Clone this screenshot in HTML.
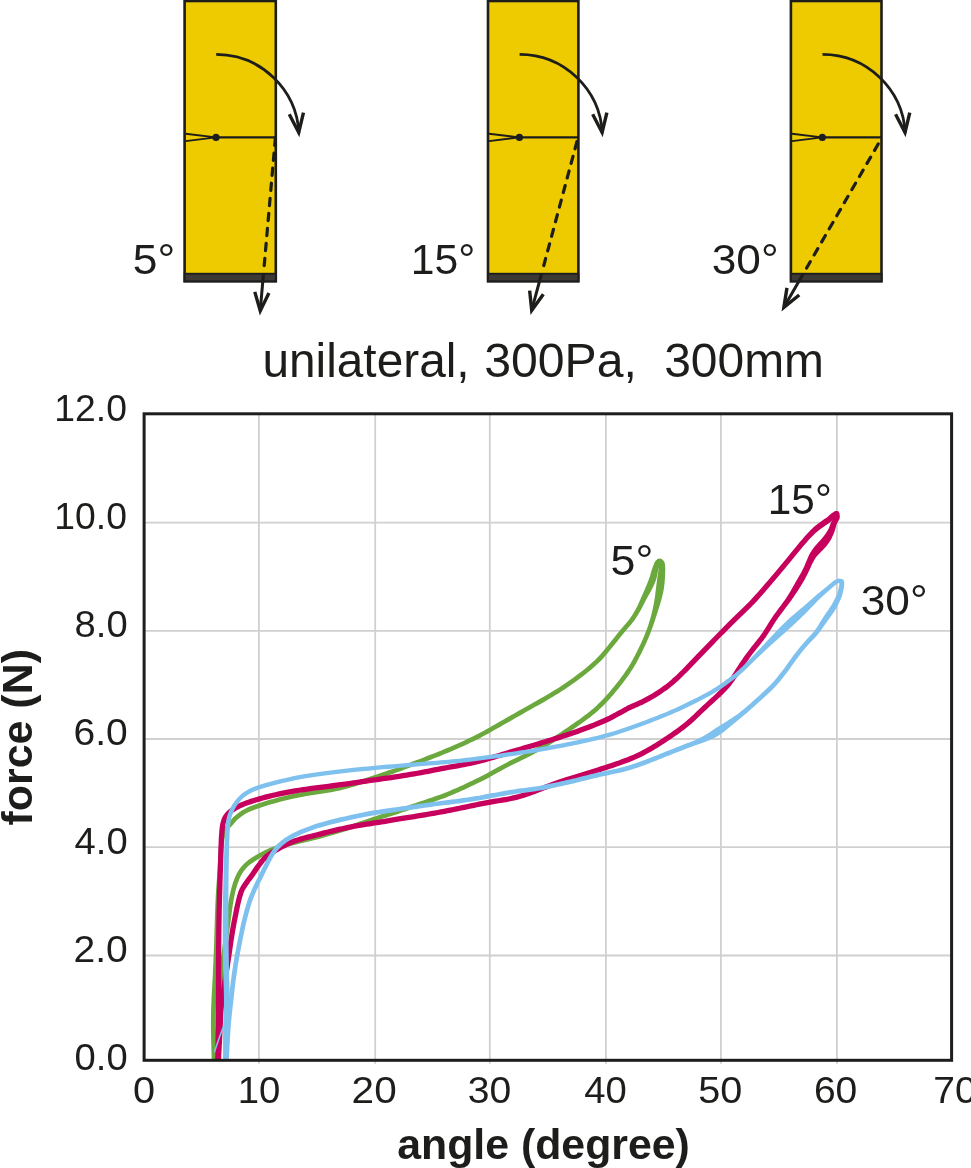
<!DOCTYPE html>
<html><head><meta charset="utf-8"><title>chart</title>
<style>
html,body{margin:0;padding:0;background:#fff;}
body{width:971px;height:1168px;overflow:hidden;}
svg{display:block;will-change:transform;}
text{font-family:"Liberation Sans",sans-serif;fill:#1d1d1b;}
.t42{font-size:42px;}
.title{font-size:47.5px;}
.tick{font-size:37px;}
.axt{font-size:42.5px;font-weight:bold;}
</style></head>
<body>
<svg width="971" height="1168" viewBox="0 0 971 1168">
<rect x="184.6" y="1" width="91.2" height="280.3" fill="#EECB00" stroke="#1d1d1b" stroke-width="2.6"/>
<rect x="184.6" y="273.7" width="91.2" height="7.6" fill="#3d3935" stroke="#1d1d1b" stroke-width="1.8"/>
<path d="M185.6 133.8 L216.0 137.4 L185.6 141.1" fill="none" stroke="#1d1d1b" stroke-width="1.9"/>
<line x1="216.0" y1="137.4" x2="275.8" y2="137.4" stroke="#1d1d1b" stroke-width="2.2"/>
<circle cx="216.0" cy="137.4" r="3.6" fill="#1d1d1b"/>
<path d="M216.2 54.4 A83.0 83.0 0 0 1 298.9 133.1" fill="none" stroke="#1d1d1b" stroke-width="2.8"/>
<path d="M305.14 112.99 L299.30 137.30 L287.76 115.12 L290.77 113.55 L298.12 127.66 L301.83 112.20 Z" fill="#1d1d1b"/>
<line x1="275.4" y1="137.6" x2="263.6" y2="272.5" stroke="#1d1d1b" stroke-width="3.2" stroke-dasharray="7.3 7.8" stroke-dashoffset="-0.5" stroke-linecap="round"/>
<line x1="263.5" y1="273.5" x2="260.3" y2="309.6" stroke="#1d1d1b" stroke-width="3.0"/>
<path d="M270.44 293.85 L259.83 315.60 L253.16 292.34 L256.42 291.40 L260.65 306.15 L267.38 292.36 Z" fill="#1d1d1b"/>
<rect x="488.0" y="1" width="90.4" height="280.3" fill="#EECB00" stroke="#1d1d1b" stroke-width="2.6"/>
<rect x="488.0" y="273.7" width="90.4" height="7.6" fill="#3d3935" stroke="#1d1d1b" stroke-width="1.8"/>
<path d="M489.0 133.8 L519.4 137.4 L489.0 141.1" fill="none" stroke="#1d1d1b" stroke-width="1.9"/>
<line x1="519.4" y1="137.4" x2="578.4" y2="137.4" stroke="#1d1d1b" stroke-width="2.2"/>
<circle cx="519.4" cy="137.4" r="3.6" fill="#1d1d1b"/>
<path d="M519.6 54.4 A83.0 83.0 0 0 1 602.3 133.1" fill="none" stroke="#1d1d1b" stroke-width="2.8"/>
<path d="M608.54 112.99 L602.70 137.30 L591.16 115.12 L594.17 113.55 L601.52 127.66 L605.23 112.20 Z" fill="#1d1d1b"/>
<line x1="578.0" y1="137.6" x2="541.9" y2="272.5" stroke="#1d1d1b" stroke-width="3.2" stroke-dasharray="7.3 7.8" stroke-dashoffset="-4.3" stroke-linecap="round"/>
<line x1="541.6" y1="273.5" x2="532.0" y2="309.1" stroke="#1d1d1b" stroke-width="3.0"/>
<path d="M544.72 295.32 L530.49 314.90 L527.96 290.83 L531.34 290.48 L532.95 305.74 L541.97 293.32 Z" fill="#1d1d1b"/>
<rect x="790.9" y="1" width="90.6" height="280.3" fill="#EECB00" stroke="#1d1d1b" stroke-width="2.6"/>
<rect x="790.9" y="273.7" width="90.6" height="7.6" fill="#3d3935" stroke="#1d1d1b" stroke-width="1.8"/>
<path d="M791.9 133.8 L822.3 137.4 L791.9 141.1" fill="none" stroke="#1d1d1b" stroke-width="1.9"/>
<line x1="822.3" y1="137.4" x2="881.5" y2="137.4" stroke="#1d1d1b" stroke-width="2.2"/>
<circle cx="822.3" cy="137.4" r="3.6" fill="#1d1d1b"/>
<path d="M822.5 54.4 A83.0 83.0 0 0 1 905.2 133.1" fill="none" stroke="#1d1d1b" stroke-width="2.8"/>
<path d="M911.44 112.99 L905.60 137.30 L894.06 115.12 L897.07 113.55 L904.42 127.66 L908.13 112.20 Z" fill="#1d1d1b"/>
<line x1="881.9" y1="137.6" x2="804.0" y2="272.5" stroke="#1d1d1b" stroke-width="3.2" stroke-dasharray="7.3 7.8" stroke-dashoffset="-7.4" stroke-linecap="round"/>
<line x1="803.4" y1="273.5" x2="784.5" y2="306.3" stroke="#1d1d1b" stroke-width="3.0"/>
<path d="M800.31 296.27 L781.50 311.50 L785.28 287.60 L788.64 288.13 L786.24 303.28 L798.17 293.63 Z" fill="#1d1d1b"/>
<line x1="258.9" y1="413.8" x2="258.9" y2="1063.8" stroke="#d0d0d0" stroke-width="1.8"/>
<line x1="375.2" y1="413.8" x2="375.2" y2="1063.8" stroke="#d0d0d0" stroke-width="1.8"/>
<line x1="489.8" y1="413.8" x2="489.8" y2="1063.8" stroke="#d0d0d0" stroke-width="1.8"/>
<line x1="605.9" y1="413.8" x2="605.9" y2="1063.8" stroke="#d0d0d0" stroke-width="1.8"/>
<line x1="720.9" y1="413.8" x2="720.9" y2="1063.8" stroke="#d0d0d0" stroke-width="1.8"/>
<line x1="836.9" y1="413.8" x2="836.9" y2="1063.8" stroke="#d0d0d0" stroke-width="1.8"/>
<line x1="144.1" y1="522.6" x2="951.6" y2="522.6" stroke="#d0d0d0" stroke-width="1.8"/>
<line x1="144.1" y1="630.9" x2="951.6" y2="630.9" stroke="#d0d0d0" stroke-width="1.8"/>
<line x1="144.1" y1="739.0" x2="951.6" y2="739.0" stroke="#d0d0d0" stroke-width="1.8"/>
<line x1="144.1" y1="847.2" x2="951.6" y2="847.2" stroke="#d0d0d0" stroke-width="1.8"/>
<line x1="144.1" y1="955.5" x2="951.6" y2="955.5" stroke="#d0d0d0" stroke-width="1.8"/>
<path d="M216.35 1057.93 L216.26 1054.85 L216.13 1050.56 L215.98 1045.50 L215.83 1040.09 L215.72 1034.77 L215.65 1029.98 L215.63 1025.71 L215.63 1021.64 L215.66 1017.65 L215.72 1013.64 L215.82 1009.48 L215.95 1005.08 L216.14 1000.40 L216.38 995.49 L216.66 990.44 L216.96 985.32 L217.24 980.18 L217.50 975.11 L217.73 970.09 L217.95 965.04 L218.17 959.99 L218.37 954.96 L218.57 949.99 L218.75 945.08 L218.91 940.20 L219.06 935.32 L219.19 930.49 L219.32 925.76 L219.46 921.19 L219.60 916.83 L219.75 912.67 L219.90 908.65 L220.05 904.80 L220.21 901.09 L220.37 897.54 L220.55 894.13 L220.74 890.91 L220.94 887.89 L221.15 885.00 L221.37 882.21 L221.58 879.44 L221.77 876.66 L221.95 873.88 L222.12 871.14 L222.28 868.45 L222.44 865.81 L222.59 863.20 L222.75 860.63 L222.89 858.07 L223.01 855.53 L223.12 853.04 L223.25 850.64 L223.40 848.36 L223.59 846.23 L223.81 844.21 L224.04 842.29 L224.29 840.49 L224.58 838.82 L224.90 837.29 L225.25 835.91 L225.65 834.72 L226.08 833.68 L226.55 832.75 L227.06 831.86 L227.63 830.96 L228.23 830.06 L228.82 829.24 L229.42 828.51 L230.08 827.78 L230.82 827.02 L231.63 826.17 L232.54 825.21 L233.48 824.14 L234.40 823.05 L235.34 821.96 L236.33 820.87 L237.40 819.81 L238.61 818.75 L239.97 817.65 L241.42 816.53 L242.96 815.42 L244.63 814.33 L246.45 813.26 L248.47 812.22 L250.73 811.20 L253.25 810.20 L255.95 809.21 L258.81 808.23 L261.76 807.26 L264.76 806.29 L267.84 805.32 L271.06 804.36 L274.36 803.40 L277.70 802.48 L281.02 801.59 L284.27 800.75 L287.45 799.98 L290.60 799.25 L293.73 798.56 L296.87 797.90 L300.03 797.27 L303.22 796.66 L306.47 796.09 L309.77 795.57 L313.10 795.07 L316.45 794.58 L319.77 794.07 L323.04 793.54 L326.23 793.00 L329.41 792.46 L332.55 791.91 L335.66 791.34 L338.73 790.72 L341.73 790.06 L344.63 789.36 L347.41 788.62 L350.13 787.85 L352.83 787.05 L355.56 786.21 L358.37 785.34 L361.28 784.43 L364.22 783.47 L367.20 782.48 L370.21 781.47 L373.26 780.44 L376.35 779.40 L379.52 778.34 L382.79 777.25 L386.11 776.14 L389.42 775.02 L392.67 773.91 L395.81 772.82 L398.82 771.74 L401.77 770.68 L404.64 769.62 L407.46 768.57 L410.23 767.53 L412.98 766.50 L415.66 765.49 L418.27 764.50 L420.83 763.51 L423.39 762.53 L425.98 761.52 L428.63 760.49 L431.34 759.43 L434.10 758.36 L436.90 757.27 L439.71 756.16 L442.54 755.03 L445.37 753.87 L448.19 752.70 L451.01 751.51 L453.84 750.30 L456.69 749.07 L459.56 747.80 L462.45 746.49 L465.37 745.14 L468.32 743.76 L471.29 742.35 L474.27 740.90 L477.25 739.42 L480.21 737.91 L483.16 736.36 L486.10 734.76 L489.03 733.13 L491.94 731.50 L494.82 729.87 L497.66 728.27 L500.46 726.68 L503.23 725.09 L505.97 723.52 L508.69 721.94 L511.41 720.38 L514.14 718.82 L516.88 717.26 L519.63 715.71 L522.39 714.16 L525.14 712.61 L527.87 711.08 L530.58 709.55 L533.22 708.06 L535.80 706.62 L538.38 705.17 L540.99 703.70 L543.68 702.15 L546.49 700.50 L549.43 698.76 L552.45 696.97 L555.56 695.11 L558.74 693.15 L561.99 691.10 L565.28 688.93 L568.72 686.58 L572.33 684.06 L575.99 681.44 L579.58 678.81 L582.99 676.25 L586.10 673.85 L588.91 671.59 L591.52 669.40 L593.93 667.30 L596.17 665.27 L598.26 663.31 L600.22 661.43 L602.00 659.63 L603.56 657.96 L604.97 656.36 L606.28 654.80 L607.57 653.24 L608.93 651.60 L610.37 649.86 L611.82 648.07 L613.25 646.26 L614.68 644.45 L616.11 642.65 L617.53 640.88 L618.96 639.11 L620.41 637.34 L621.86 635.57 L623.29 633.82 L624.71 632.10 L626.08 630.43 L627.42 628.83 L628.76 627.29 L630.08 625.76 L631.40 624.20 L632.70 622.60 L633.96 620.94 L635.15 619.23 L636.30 617.52 L637.40 615.79 L638.47 614.04 L639.53 612.25 L640.58 610.41 L641.64 608.49 L642.68 606.50 L643.70 604.49 L644.71 602.51 L645.70 600.59 L646.67 598.77 L647.64 597.02 L648.60 595.29 L649.56 593.60 L650.48 591.93 L651.36 590.30 L652.19 588.70 L652.94 587.18 L653.64 585.71 L654.30 584.28 L654.90 582.85 L655.47 581.41 L655.99 579.92 L656.45 578.39 L656.83 576.87 L657.15 575.42 L657.43 574.03 L657.70 572.73 L657.99 571.48 L658.31 570.17 L658.64 568.82 L658.97 567.52 L659.30 566.34 L659.60 565.37 L659.83 564.72 L659.96 564.46 L659.99 564.39 L660.03 564.35 L660.17 564.27 L660.42 564.15 L658.10 559.14 L657.70 559.32 L657.07 559.65 L656.27 560.21 L655.45 561.05 L654.77 562.08 L654.22 563.20 L653.72 564.40 L653.22 565.69 L652.74 567.04 L652.27 568.39 L651.81 569.72 L651.38 571.09 L650.98 572.48 L650.61 573.84 L650.25 575.18 L649.87 576.47 L649.46 577.73 L649.00 579.01 L648.51 580.30 L647.98 581.62 L647.43 582.99 L646.84 584.43 L646.21 585.95 L645.55 587.53 L644.84 589.17 L644.09 590.88 L643.31 592.64 L642.50 594.46 L641.68 596.33 L640.84 598.27 L639.97 600.27 L639.09 602.30 L638.19 604.30 L637.27 606.24 L636.32 608.09 L635.35 609.87 L634.36 611.61 L633.36 613.30 L632.32 614.95 L631.25 616.57 L630.14 618.16 L628.99 619.70 L627.78 621.20 L626.51 622.70 L625.20 624.22 L623.84 625.79 L622.47 627.42 L621.08 629.11 L619.66 630.84 L618.22 632.59 L616.77 634.36 L615.32 636.15 L613.87 637.92 L612.43 639.72 L611.00 641.53 L609.57 643.34 L608.15 645.13 L606.73 646.89 L605.32 648.60 L603.95 650.24 L602.67 651.79 L601.40 653.30 L600.08 654.80 L598.62 656.37 L596.93 658.07 L595.03 659.91 L592.99 661.81 L590.81 663.79 L588.46 665.83 L585.93 667.95 L583.20 670.15 L580.15 672.51 L576.79 675.03 L573.23 677.63 L569.61 680.22 L566.05 682.72 L562.67 685.02 L559.44 687.15 L556.25 689.16 L553.12 691.09 L550.04 692.94 L547.03 694.72 L544.11 696.45 L541.32 698.09 L538.66 699.62 L536.07 701.08 L533.51 702.51 L530.92 703.96 L528.27 705.45 L525.56 706.98 L522.83 708.52 L520.09 710.06 L517.33 711.61 L514.57 713.17 L511.81 714.73 L509.07 716.30 L506.34 717.87 L503.62 719.44 L500.89 721.02 L498.13 722.60 L495.34 724.18 L492.50 725.78 L489.63 727.41 L486.74 729.03 L483.84 730.64 L480.94 732.21 L478.04 733.74 L475.13 735.22 L472.20 736.68 L469.26 738.11 L466.32 739.51 L463.39 740.88 L460.50 742.21 L457.64 743.51 L454.81 744.76 L451.99 745.99 L449.18 747.19 L446.38 748.36 L443.58 749.53 L440.78 750.67 L437.98 751.79 L435.18 752.90 L432.40 753.98 L429.64 755.05 L426.92 756.11 L424.27 757.14 L421.69 758.14 L419.15 759.13 L416.59 760.10 L414.00 761.09 L411.32 762.10 L408.58 763.13 L405.82 764.17 L403.01 765.21 L400.15 766.26 L397.24 767.32 L394.24 768.38 L391.14 769.47 L387.91 770.57 L384.61 771.68 L381.30 772.79 L378.03 773.88 L374.85 774.95 L371.76 775.99 L368.71 777.02 L365.71 778.03 L362.75 779.01 L359.85 779.95 L356.98 780.86 L354.18 781.72 L351.47 782.55 L348.82 783.34 L346.17 784.09 L343.47 784.80 L340.67 785.49 L337.76 786.12 L334.78 786.72 L331.72 787.28 L328.61 787.83 L325.45 788.37 L322.26 788.91 L319.04 789.43 L315.75 789.93 L312.41 790.42 L309.05 790.92 L305.69 791.46 L302.38 792.04 L299.13 792.66 L295.93 793.29 L292.74 793.96 L289.56 794.66 L286.36 795.41 L283.13 796.20 L279.83 797.04 L276.46 797.94 L273.08 798.88 L269.73 799.85 L266.47 800.83 L263.34 801.81 L260.31 802.79 L257.31 803.77 L254.38 804.78 L251.57 805.81 L248.91 806.87 L246.43 807.98 L244.19 809.14 L242.15 810.33 L240.30 811.55 L238.61 812.77 L237.06 813.96 L235.59 815.15 L234.19 816.37 L232.94 817.62 L231.83 818.84 L230.83 820.00 L229.92 821.07 L229.06 822.04 L228.23 822.93 L227.43 823.76 L226.64 824.58 L225.86 825.44 L225.10 826.38 L224.37 827.39 L223.69 828.40 L223.04 829.42 L222.41 830.52 L221.80 831.74 L221.24 833.09 L220.75 834.59 L220.32 836.22 L219.96 837.95 L219.65 839.77 L219.38 841.68 L219.14 843.68 L218.91 845.77 L218.71 848.00 L218.56 850.36 L218.43 852.80 L218.31 855.31 L218.19 857.83 L218.05 860.37 L217.90 862.92 L217.75 865.53 L217.59 868.17 L217.43 870.86 L217.26 873.58 L217.08 876.34 L216.89 879.10 L216.68 881.85 L216.47 884.65 L216.25 887.56 L216.05 890.61 L215.85 893.87 L215.68 897.31 L215.51 900.89 L215.35 904.61 L215.20 908.47 L215.05 912.49 L214.90 916.67 L214.76 921.05 L214.63 925.63 L214.49 930.36 L214.36 935.18 L214.21 940.05 L214.05 944.92 L213.87 949.81 L213.68 954.78 L213.47 959.79 L213.26 964.83 L213.03 969.87 L212.80 974.89 L212.55 979.93 L212.26 985.05 L211.97 990.18 L211.69 995.25 L211.44 1000.18 L211.25 1004.92 L211.12 1009.36 L211.02 1013.55 L210.96 1017.60 L210.93 1021.62 L210.93 1025.72 L210.95 1030.02 L211.02 1034.86 L211.14 1040.21 L211.28 1045.63 L211.43 1050.70 L211.56 1054.99 L211.65 1058.07 Z" fill="#6BA93E"/><circle cx="214.00" cy="1058.00" r="2.35" fill="#6BA93E"/><circle cx="659.26" cy="561.65" r="2.76" fill="#6BA93E"/>
<path d="M658.31 564.14 L658.88 564.41 L659.09 564.51 L659.07 564.50 L658.90 564.33 L658.77 564.17 L658.77 564.32 L658.82 564.76 L658.85 565.36 L658.85 566.10 L658.81 566.97 L658.75 567.93 L658.64 569.01 L658.48 570.22 L658.28 571.56 L658.05 572.99 L657.82 574.48 L657.59 575.98 L657.37 577.51 L657.16 579.07 L656.95 580.65 L656.75 582.26 L656.54 583.87 L656.34 585.48 L656.13 587.11 L655.93 588.77 L655.72 590.44 L655.52 592.12 L655.31 593.79 L655.09 595.46 L654.86 597.13 L654.60 598.80 L654.33 600.47 L654.04 602.16 L653.73 603.88 L653.40 605.62 L653.05 607.38 L652.67 609.14 L652.27 610.93 L651.84 612.73 L651.38 614.55 L650.89 616.39 L650.36 618.27 L649.82 620.17 L649.24 622.08 L648.64 624.00 L648.00 625.94 L647.31 627.88 L646.59 629.85 L645.82 631.85 L645.02 633.87 L644.18 635.90 L643.33 637.93 L642.45 639.95 L641.55 641.97 L640.61 643.99 L639.66 646.01 L638.68 648.03 L637.70 650.04 L636.70 652.02 L635.71 653.97 L634.72 655.90 L633.73 657.80 L632.72 659.68 L631.67 661.55 L630.58 663.42 L629.45 665.29 L628.28 667.15 L627.07 669.01 L625.83 670.87 L624.55 672.74 L623.21 674.63 L621.83 676.54 L620.39 678.48 L618.90 680.42 L617.38 682.37 L615.85 684.30 L614.30 686.22 L612.74 688.12 L611.16 690.02 L609.57 691.91 L607.96 693.76 L606.36 695.57 L604.75 697.33 L603.15 699.03 L601.55 700.68 L599.94 702.30 L598.33 703.87 L596.70 705.42 L595.05 706.93 L593.40 708.40 L591.75 709.81 L590.08 711.19 L588.38 712.56 L586.62 713.94 L584.78 715.35 L582.88 716.77 L580.91 718.20 L578.89 719.63 L576.81 721.09 L574.68 722.56 L572.51 724.07 L570.30 725.60 L568.04 727.16 L565.73 728.73 L563.40 730.32 L561.04 731.91 L558.67 733.50 L556.28 735.09 L553.88 736.70 L551.47 738.30 L549.04 739.89 L546.58 741.45 L544.08 742.99 L541.54 744.50 L538.95 746.00 L536.33 747.48 L533.68 748.94 L531.01 750.38 L528.34 751.79 L525.64 753.17 L522.88 754.53 L520.08 755.87 L517.30 757.20 L514.57 758.52 L511.92 759.82 L509.36 761.12 L506.86 762.41 L504.41 763.68 L502.04 764.93 L499.76 766.14 L497.58 767.31 L495.54 768.43 L493.65 769.50 L491.87 770.52 L490.14 771.52 L488.39 772.51 L486.55 773.50 L484.64 774.49 L482.71 775.48 L480.75 776.45 L478.72 777.45 L476.62 778.47 L474.43 779.54 L472.11 780.66 L469.69 781.82 L467.21 783.01 L464.68 784.21 L462.15 785.39 L459.63 786.53 L457.13 787.66 L454.61 788.77 L452.09 789.87 L449.55 790.95 L447.01 791.99 L444.45 793.01 L441.88 793.98 L439.29 794.91 L436.67 795.83 L434.02 796.73 L431.35 797.63 L428.67 798.55 L425.96 799.48 L423.23 800.40 L420.49 801.32 L417.73 802.24 L414.98 803.17 L412.22 804.10 L409.44 805.04 L406.63 806.01 L403.81 806.97 L401.04 807.92 L398.35 808.83 L395.76 809.69 L393.28 810.51 L390.87 811.28 L388.53 812.02 L386.26 812.74 L384.06 813.43 L381.94 814.11 L379.95 814.74 L378.12 815.32 L376.35 815.88 L374.58 816.44 L372.73 817.04 L370.73 817.70 L368.62 818.41 L366.47 819.15 L364.26 819.92 L361.95 820.72 L359.52 821.57 L356.92 822.45 L354.13 823.40 L351.17 824.41 L348.09 825.46 L344.92 826.52 L341.70 827.56 L338.46 828.58 L335.14 829.58 L331.68 830.59 L328.16 831.59 L324.65 832.57 L321.22 833.50 L317.95 834.38 L314.81 835.19 L311.73 835.95 L308.72 836.68 L305.80 837.37 L302.99 838.04 L300.32 838.69 L297.81 839.31 L295.46 839.88 L293.23 840.43 L291.06 840.98 L288.94 841.53 L286.82 842.11 L284.74 842.70 L282.72 843.28 L280.74 843.88 L278.78 844.50 L276.82 845.16 L274.85 845.88 L272.87 846.64 L270.90 847.46 L268.94 848.30 L267.01 849.18 L265.11 850.08 L263.24 851.00 L261.41 851.94 L259.58 852.92 L257.78 853.92 L256.03 854.94 L254.33 855.97 L252.72 857.01 L251.18 858.03 L249.69 859.06 L248.26 860.11 L246.87 861.19 L245.54 862.31 L244.27 863.48 L243.07 864.70 L241.94 865.94 L240.89 867.21 L239.89 868.51 L238.96 869.85 L238.07 871.22 L237.24 872.64 L236.49 874.09 L235.80 875.56 L235.16 877.04 L234.56 878.52 L233.98 880.02 L233.42 881.52 L232.90 883.02 L232.42 884.55 L231.95 886.13 L231.50 887.79 L231.04 889.56 L230.60 891.41 L230.16 893.32 L229.73 895.32 L229.31 897.44 L228.89 899.70 L228.48 902.12 L228.07 904.75 L227.68 907.54 L227.29 910.47 L226.90 913.49 L226.51 916.58 L226.10 919.69 L225.67 922.88 L225.23 926.17 L224.78 929.53 L224.33 932.93 L223.87 936.33 L223.42 939.68 L222.96 943.01 L222.49 946.33 L222.01 949.67 L221.55 953.02 L221.11 956.38 L220.71 959.74 L220.36 963.10 L220.04 966.45 L219.74 969.80 L219.47 973.15 L219.23 976.50 L219.00 979.86 L218.83 983.11 L218.72 986.22 L218.63 989.30 L218.53 992.51 L218.38 995.97 L218.15 999.85 L217.85 1004.28 L217.48 1009.15 L217.07 1014.31 L216.63 1019.57 L216.15 1024.78 L215.66 1029.75 L215.10 1034.84 L214.45 1040.23 L213.76 1045.57 L213.11 1050.51 L212.56 1054.67 L212.17 1057.70 L216.83 1058.30 L217.22 1055.28 L217.77 1051.12 L218.42 1046.18 L219.11 1040.81 L219.77 1035.38 L220.34 1030.25 L220.83 1025.22 L221.31 1019.98 L221.76 1014.69 L222.17 1009.51 L222.53 1004.61 L222.85 1000.15 L223.07 996.21 L223.22 992.68 L223.32 989.45 L223.41 986.37 L223.53 983.32 L223.70 980.14 L223.92 976.83 L224.16 973.51 L224.43 970.20 L224.72 966.88 L225.04 963.57 L225.39 960.26 L225.77 956.96 L226.21 953.65 L226.67 950.33 L227.14 947.00 L227.62 943.66 L228.08 940.32 L228.53 936.95 L228.98 933.55 L229.44 930.15 L229.89 926.79 L230.33 923.50 L230.75 920.31 L231.17 917.18 L231.56 914.09 L231.95 911.08 L232.34 908.18 L232.72 905.43 L233.12 902.88 L233.52 900.52 L233.93 898.32 L234.33 896.27 L234.75 894.34 L235.17 892.49 L235.61 890.69 L236.04 888.99 L236.47 887.41 L236.91 885.93 L237.37 884.50 L237.85 883.10 L238.37 881.68 L238.93 880.25 L239.49 878.85 L240.08 877.49 L240.70 876.18 L241.36 874.91 L242.08 873.68 L242.86 872.47 L243.69 871.29 L244.56 870.14 L245.49 869.02 L246.48 867.93 L247.53 866.87 L248.65 865.84 L249.83 864.84 L251.09 863.86 L252.42 862.89 L253.82 861.92 L255.28 860.94 L256.82 859.96 L258.43 858.98 L260.11 858.01 L261.83 857.05 L263.59 856.11 L265.36 855.20 L267.15 854.31 L268.99 853.44 L270.85 852.60 L272.73 851.79 L274.62 851.01 L276.50 850.27 L278.37 849.60 L280.24 848.97 L282.13 848.37 L284.05 847.79 L286.03 847.22 L288.08 846.64 L290.15 846.07 L292.23 845.53 L294.36 844.99 L296.58 844.45 L298.93 843.87 L301.43 843.26 L304.09 842.61 L306.89 841.94 L309.81 841.25 L312.84 840.52 L315.96 839.75 L319.15 838.92 L322.45 838.04 L325.90 837.10 L329.43 836.11 L332.98 835.10 L336.47 834.09 L339.84 833.07 L343.13 832.04 L346.39 830.98 L349.59 829.91 L352.68 828.86 L355.64 827.85 L358.43 826.90 L361.04 826.01 L363.49 825.16 L365.81 824.36 L368.01 823.59 L370.14 822.86 L372.22 822.15 L374.19 821.50 L376.01 820.92 L377.77 820.36 L379.53 819.80 L381.37 819.22 L383.36 818.59 L385.48 817.92 L387.68 817.22 L389.95 816.50 L392.31 815.76 L394.73 814.98 L397.24 814.16 L399.84 813.29 L402.55 812.37 L405.34 811.42 L408.15 810.45 L410.96 809.49 L413.73 808.55 L416.47 807.62 L419.23 806.70 L421.99 805.78 L424.74 804.85 L427.47 803.93 L430.18 803.00 L432.87 802.08 L435.54 801.18 L438.20 800.27 L440.86 799.34 L443.51 798.39 L446.15 797.39 L448.77 796.35 L451.37 795.28 L453.94 794.19 L456.50 793.07 L459.04 791.95 L461.57 790.82 L464.11 789.66 L466.68 788.46 L469.23 787.26 L471.73 786.06 L474.16 784.89 L476.47 783.76 L478.68 782.70 L480.79 781.67 L482.83 780.67 L484.82 779.67 L486.79 778.67 L488.75 777.65 L490.66 776.62 L492.46 775.61 L494.22 774.60 L495.99 773.58 L497.83 772.53 L499.82 771.44 L501.97 770.29 L504.24 769.08 L506.59 767.85 L509.02 766.59 L511.50 765.31 L514.03 764.03 L516.63 762.74 L519.33 761.44 L522.12 760.11 L524.93 758.76 L527.74 757.37 L530.51 755.96 L533.22 754.52 L535.93 753.07 L538.62 751.58 L541.28 750.08 L543.92 748.55 L546.52 747.01 L549.07 745.44 L551.58 743.84 L554.06 742.22 L556.49 740.61 L558.90 739.00 L561.28 737.40 L563.66 735.81 L566.03 734.21 L568.38 732.62 L570.70 731.03 L572.97 729.47 L575.19 727.93 L577.36 726.43 L579.49 724.95 L581.59 723.48 L583.65 722.02 L585.66 720.56 L587.62 719.10 L589.50 717.66 L591.30 716.24 L593.06 714.83 L594.78 713.40 L596.49 711.94 L598.20 710.42 L599.90 708.86 L601.59 707.26 L603.25 705.64 L604.91 703.97 L606.55 702.27 L608.20 700.52 L609.85 698.72 L611.50 696.86 L613.14 694.96 L614.76 693.04 L616.37 691.11 L617.95 689.18 L619.51 687.24 L621.08 685.28 L622.62 683.30 L624.14 681.31 L625.61 679.33 L627.04 677.37 L628.40 675.43 L629.72 673.51 L631.00 671.59 L632.24 669.68 L633.45 667.76 L634.62 665.83 L635.75 663.88 L636.84 661.94 L637.88 660.00 L638.90 658.06 L639.90 656.11 L640.90 654.13 L641.90 652.13 L642.91 650.09 L643.90 648.04 L644.87 645.98 L645.83 643.91 L646.75 641.85 L647.65 639.79 L648.53 637.72 L649.39 635.65 L650.22 633.59 L651.02 631.54 L651.79 629.52 L652.52 627.52 L653.21 625.53 L653.88 623.57 L654.52 621.64 L655.15 619.73 L655.76 617.86 L656.37 616.01 L656.96 614.18 L657.54 612.38 L658.10 610.59 L658.65 608.83 L659.20 607.08 L659.73 605.36 L660.25 603.65 L660.76 601.95 L661.25 600.25 L661.72 598.55 L662.16 596.84 L662.58 595.11 L662.96 593.37 L663.31 591.64 L663.63 589.92 L663.91 588.21 L664.16 586.52 L664.38 584.83 L664.56 583.14 L664.71 581.47 L664.83 579.84 L664.93 578.25 L665.01 576.72 L665.08 575.21 L665.16 573.70 L665.22 572.21 L665.26 570.75 L665.28 569.36 L665.25 568.07 L665.19 566.90 L665.11 565.81 L664.99 564.79 L664.82 563.81 L664.59 562.86 L664.23 561.83 L663.56 560.73 L662.67 559.87 L661.84 559.37 L661.27 559.11 L660.69 558.86 Z" fill="#6BA93E"/><circle cx="659.50" cy="561.50" r="2.89" fill="#6BA93E"/><circle cx="214.50" cy="1058.00" r="2.35" fill="#6BA93E"/>
<path d="M220.65 1058.02 L220.67 1054.99 L220.70 1050.83 L220.73 1045.89 L220.77 1040.54 L220.81 1035.13 L220.85 1030.02 L220.90 1025.14 L220.95 1020.18 L221.01 1015.15 L221.06 1010.10 L221.11 1005.05 L221.15 1000.02 L221.17 995.01 L221.18 990.00 L221.18 985.00 L221.18 980.00 L221.19 975.00 L221.20 970.01 L221.22 965.01 L221.24 960.01 L221.26 955.01 L221.29 950.02 L221.33 945.02 L221.37 940.03 L221.43 935.00 L221.49 929.94 L221.56 924.88 L221.64 919.86 L221.73 914.90 L221.82 910.06 L221.93 905.25 L222.05 900.46 L222.18 895.73 L222.32 891.13 L222.45 886.73 L222.57 882.58 L222.69 878.69 L222.81 875.00 L222.93 871.51 L223.04 868.20 L223.15 865.06 L223.25 862.09 L223.34 859.32 L223.41 856.79 L223.48 854.44 L223.55 852.20 L223.62 850.03 L223.70 847.85 L223.78 845.67 L223.86 843.56 L223.94 841.51 L224.03 839.52 L224.14 837.59 L224.27 835.68 L224.40 833.80 L224.54 831.95 L224.69 830.17 L224.86 828.48 L225.08 826.89 L225.35 825.40 L225.66 823.98 L225.99 822.65 L226.35 821.44 L226.76 820.33 L227.23 819.29 L227.81 818.27 L228.48 817.26 L229.23 816.30 L230.07 815.37 L231.02 814.46 L232.08 813.54 L233.29 812.61 L234.62 811.69 L236.08 810.77 L237.66 809.86 L239.36 808.97 L241.18 808.08 L243.13 807.21 L245.18 806.35 L247.35 805.52 L249.65 804.70 L252.07 803.88 L254.63 803.06 L257.33 802.24 L260.17 801.41 L263.14 800.57 L266.24 799.74 L269.46 798.91 L272.79 798.10 L276.25 797.31 L279.86 796.53 L283.63 795.75 L287.52 794.99 L291.50 794.25 L295.53 793.54 L299.57 792.87 L303.65 792.24 L307.81 791.66 L312.03 791.11 L316.29 790.57 L320.55 790.03 L324.77 789.48 L328.95 788.92 L333.11 788.38 L337.27 787.83 L341.42 787.28 L345.59 786.72 L349.77 786.15 L353.96 785.56 L358.17 784.95 L362.38 784.34 L366.59 783.72 L370.77 783.10 L374.93 782.50 L379.08 781.90 L383.25 781.31 L387.40 780.73 L391.52 780.14 L395.57 779.55 L399.53 778.94 L403.39 778.33 L407.18 777.72 L410.89 777.10 L414.54 776.47 L418.13 775.84 L421.68 775.21 L425.16 774.55 L428.56 773.89 L431.90 773.22 L435.19 772.56 L438.44 771.91 L441.69 771.28 L444.93 770.68 L448.15 770.11 L451.37 769.55 L454.57 768.98 L457.77 768.41 L460.95 767.80 L464.12 767.19 L467.28 766.56 L470.44 765.93 L473.58 765.27 L476.69 764.58 L479.77 763.85 L482.80 763.06 L485.78 762.22 L488.71 761.36 L491.59 760.49 L494.43 759.63 L497.25 758.79 L500.05 757.97 L502.82 757.14 L505.55 756.33 L508.28 755.51 L511.00 754.70 L513.73 753.89 L516.47 753.08 L519.22 752.28 L521.98 751.48 L524.73 750.67 L527.47 749.87 L530.18 749.06 L532.84 748.27 L535.45 747.48 L538.04 746.70 L540.65 745.90 L543.31 745.08 L546.08 744.23 L548.91 743.37 L551.78 742.50 L554.73 741.60 L557.76 740.67 L560.90 739.68 L564.16 738.62 L567.59 737.47 L571.21 736.25 L574.92 734.97 L578.66 733.66 L582.34 732.34 L585.88 731.03 L589.32 729.73 L592.75 728.40 L596.12 727.06 L599.38 725.73 L602.50 724.42 L605.43 723.14 L608.17 721.89 L610.73 720.64 L613.13 719.42 L615.39 718.24 L617.51 717.11 L619.54 716.04 L621.48 715.00 L623.27 714.00 L624.93 713.06 L626.49 712.17 L627.97 711.35 L629.42 710.59 L630.82 709.90 L632.15 709.29 L633.45 708.72 L634.77 708.16 L636.14 707.56 L637.57 706.91 L639.03 706.25 L640.50 705.59 L642.01 704.90 L643.59 704.17 L645.24 703.36 L646.96 702.47 L648.76 701.50 L650.63 700.46 L652.56 699.36 L654.53 698.20 L656.52 696.99 L658.51 695.73 L660.51 694.42 L662.55 693.04 L664.62 691.62 L666.68 690.15 L668.71 688.64 L670.70 687.10 L672.63 685.53 L674.51 683.93 L676.36 682.30 L678.17 680.65 L679.96 678.99 L681.73 677.31 L683.49 675.61 L685.21 673.87 L686.91 672.13 L688.58 670.38 L690.24 668.65 L691.91 666.92 L693.58 665.18 L695.26 663.44 L696.94 661.70 L698.62 659.96 L700.30 658.21 L701.98 656.46 L703.68 654.71 L705.38 652.95 L707.08 651.19 L708.79 649.42 L710.49 647.66 L712.20 645.90 L713.91 644.13 L715.63 642.37 L717.34 640.61 L719.06 638.85 L720.77 637.10 L722.49 635.36 L724.19 633.64 L725.89 631.93 L727.59 630.23 L729.30 628.52 L731.02 626.81 L732.76 625.09 L734.53 623.35 L736.32 621.60 L738.12 619.84 L739.94 618.07 L741.76 616.30 L743.58 614.52 L745.38 612.76 L747.18 611.02 L748.99 609.26 L750.81 607.46 L752.66 605.61 L754.52 603.68 L756.38 601.69 L758.23 599.67 L760.09 597.60 L761.97 595.48 L763.90 593.28 L765.90 590.99 L768.00 588.56 L770.20 585.99 L772.45 583.35 L774.69 580.70 L776.90 578.08 L779.03 575.56 L781.10 573.09 L783.17 570.62 L785.20 568.20 L787.15 565.84 L789.01 563.60 L790.75 561.51 L792.33 559.58 L793.78 557.79 L795.13 556.12 L796.41 554.54 L797.64 553.01 L798.87 551.51 L800.08 550.05 L801.24 548.66 L802.36 547.32 L803.46 546.02 L804.57 544.74 L805.69 543.45 L806.83 542.14 L807.97 540.85 L809.11 539.58 L810.24 538.34 L811.36 537.15 L812.48 536.02 L813.60 534.93 L814.74 533.86 L815.88 532.83 L817.01 531.84 L818.12 530.90 L819.21 530.01 L820.26 529.18 L821.31 528.39 L822.35 527.64 L823.39 526.91 L824.41 526.20 L825.39 525.51 L826.31 524.88 L827.20 524.29 L828.10 523.71 L829.01 523.11 L829.91 522.48 L830.82 521.79 L831.69 521.05 L832.47 520.30 L833.16 519.60 L833.76 518.98 L834.29 518.46 L834.74 518.07 L835.21 517.73 L835.75 517.39 L836.32 517.06 L836.88 516.77 L837.40 516.50 L837.81 516.28 L835.19 511.32 L834.85 511.50 L834.34 511.75 L833.68 512.07 L832.92 512.48 L832.10 512.96 L831.26 513.53 L830.47 514.17 L829.74 514.84 L829.07 515.50 L828.43 516.12 L827.81 516.69 L827.18 517.21 L826.50 517.70 L825.73 518.22 L824.89 518.77 L823.98 519.35 L823.01 519.99 L822.01 520.69 L821.01 521.40 L819.99 522.14 L818.92 522.92 L817.81 523.75 L816.68 524.65 L815.54 525.59 L814.41 526.59 L813.26 527.62 L812.09 528.70 L810.92 529.83 L809.74 530.99 L808.57 532.18 L807.41 533.42 L806.24 534.69 L805.09 536.00 L803.94 537.31 L802.80 538.63 L801.66 539.95 L800.53 541.27 L799.41 542.58 L798.30 543.90 L797.17 545.26 L796.00 546.66 L794.78 548.14 L793.53 549.66 L792.28 551.20 L791.00 552.79 L789.66 554.46 L788.22 556.23 L786.65 558.14 L784.93 560.22 L783.08 562.46 L781.13 564.80 L779.10 567.22 L777.04 569.68 L774.97 572.14 L772.85 574.66 L770.65 577.28 L768.40 579.92 L766.17 582.55 L763.99 585.10 L761.90 587.51 L759.91 589.79 L758.00 591.97 L756.13 594.07 L754.31 596.11 L752.49 598.09 L750.68 600.02 L748.87 601.90 L747.07 603.71 L745.28 605.47 L743.48 607.21 L741.68 608.96 L739.87 610.73 L738.06 612.51 L736.24 614.28 L734.43 616.04 L732.62 617.81 L730.82 619.56 L729.04 621.31 L727.29 623.05 L725.56 624.77 L723.84 626.48 L722.14 628.19 L720.43 629.91 L718.71 631.64 L716.99 633.39 L715.27 635.14 L713.55 636.91 L711.83 638.67 L710.11 640.44 L708.40 642.20 L706.69 643.97 L704.98 645.74 L703.27 647.50 L701.56 649.27 L699.86 651.03 L698.17 652.79 L696.48 654.54 L694.80 656.28 L693.12 658.03 L691.45 659.77 L689.77 661.50 L688.09 663.23 L686.41 664.98 L684.75 666.72 L683.09 668.45 L681.43 670.16 L679.76 671.84 L678.07 673.49 L676.33 675.13 L674.59 676.75 L672.82 678.35 L671.04 679.92 L669.24 681.46 L667.40 682.95 L665.51 684.41 L663.56 685.86 L661.57 687.28 L659.57 688.66 L657.58 690.00 L655.64 691.27 L653.72 692.49 L651.81 693.66 L649.90 694.78 L648.03 695.84 L646.22 696.85 L644.49 697.78 L642.86 698.62 L641.31 699.38 L639.80 700.09 L638.32 700.76 L636.84 701.42 L635.38 702.09 L633.99 702.72 L632.66 703.29 L631.34 703.86 L629.98 704.46 L628.55 705.12 L627.03 705.86 L625.46 706.69 L623.89 707.55 L622.31 708.45 L620.67 709.39 L618.94 710.35 L617.06 711.36 L615.03 712.43 L612.91 713.55 L610.70 714.71 L608.37 715.89 L605.90 717.09 L603.27 718.31 L600.42 719.55 L597.36 720.84 L594.14 722.15 L590.82 723.47 L587.43 724.78 L584.02 726.07 L580.53 727.36 L576.89 728.66 L573.18 729.96 L569.49 731.23 L565.90 732.45 L562.49 733.58 L559.28 734.63 L556.18 735.61 L553.18 736.54 L550.25 737.43 L547.37 738.30 L544.52 739.17 L541.76 740.02 L539.10 740.83 L536.49 741.63 L533.91 742.41 L531.32 743.19 L528.67 743.99 L525.97 744.79 L523.24 745.59 L520.50 746.39 L517.74 747.19 L514.98 748.00 L512.22 748.81 L509.49 749.62 L506.76 750.43 L504.04 751.25 L501.30 752.06 L498.55 752.88 L495.75 753.71 L492.91 754.56 L490.06 755.42 L487.19 756.28 L484.32 757.13 L481.42 757.94 L478.48 758.70 L475.50 759.42 L472.46 760.09 L469.37 760.74 L466.25 761.37 L463.10 761.98 L459.95 762.60 L456.80 763.19 L453.64 763.77 L450.45 764.33 L447.23 764.89 L443.99 765.47 L440.71 766.07 L437.42 766.71 L434.14 767.36 L430.85 768.02 L427.53 768.69 L424.16 769.35 L420.72 769.99 L417.21 770.63 L413.64 771.25 L410.01 771.87 L406.31 772.49 L402.55 773.10 L398.72 773.71 L394.79 774.30 L390.76 774.89 L386.66 775.48 L382.51 776.07 L378.33 776.66 L374.17 777.25 L370.01 777.86 L365.82 778.47 L361.62 779.09 L357.41 779.71 L353.21 780.31 L349.03 780.90 L344.87 781.47 L340.72 782.03 L336.57 782.58 L332.42 783.12 L328.26 783.67 L324.08 784.22 L319.87 784.77 L315.62 785.31 L311.35 785.85 L307.10 786.41 L302.88 787.00 L298.73 787.63 L294.63 788.32 L290.56 789.04 L286.53 789.79 L282.59 790.56 L278.77 791.34 L275.10 792.14 L271.58 792.94 L268.17 793.77 L264.89 794.61 L261.74 795.46 L258.71 796.31 L255.82 797.16 L253.06 798.00 L250.42 798.84 L247.91 799.69 L245.51 800.55 L243.21 801.43 L241.02 802.34 L238.94 803.28 L236.97 804.24 L235.10 805.22 L233.35 806.23 L231.70 807.27 L230.16 808.34 L228.75 809.42 L227.45 810.54 L226.26 811.69 L225.18 812.89 L224.19 814.15 L223.29 815.48 L222.51 816.88 L221.85 818.32 L221.32 819.78 L220.88 821.26 L220.50 822.77 L220.15 824.35 L219.84 826.06 L219.60 827.85 L219.41 829.68 L219.26 831.53 L219.12 833.41 L218.98 835.32 L218.85 837.26 L218.74 839.26 L218.65 841.28 L218.56 843.35 L218.48 845.47 L218.40 847.65 L218.32 849.85 L218.25 852.04 L218.18 854.28 L218.11 856.63 L218.04 859.16 L217.95 861.91 L217.85 864.88 L217.75 868.02 L217.63 871.33 L217.52 874.83 L217.40 878.52 L217.28 882.42 L217.15 886.57 L217.02 890.98 L216.89 895.58 L216.76 900.32 L216.63 905.13 L216.53 909.94 L216.43 914.81 L216.34 919.77 L216.26 924.80 L216.19 929.87 L216.13 934.94 L216.08 939.97 L216.03 944.98 L215.99 949.98 L215.96 954.99 L215.94 959.99 L215.92 964.99 L215.90 969.99 L215.89 975.00 L215.88 980.00 L215.88 985.00 L215.88 990.00 L215.87 994.99 L215.85 999.98 L215.81 1005.00 L215.76 1010.05 L215.71 1015.10 L215.65 1020.12 L215.60 1025.09 L215.55 1029.98 L215.51 1035.09 L215.47 1040.50 L215.43 1045.86 L215.40 1050.80 L215.37 1054.96 L215.35 1057.98 Z" fill="#C7005D"/><circle cx="218.00" cy="1058.00" r="2.65" fill="#C7005D"/><circle cx="836.50" cy="513.80" r="2.80" fill="#C7005D"/>
<path d="M833.88 514.45 L834.00 514.94 L834.17 515.48 L834.30 515.94 L834.38 516.33 L834.39 516.60 L834.36 516.79 L834.20 517.14 L833.84 517.75 L833.32 518.55 L832.68 519.51 L832.00 520.61 L831.35 521.83 L830.80 523.09 L830.32 524.35 L829.87 525.58 L829.42 526.76 L828.97 527.86 L828.47 528.90 L827.91 529.95 L827.30 531.01 L826.68 532.06 L826.02 533.08 L825.34 534.08 L824.63 535.05 L823.89 536.00 L823.09 536.96 L822.25 537.94 L821.39 538.93 L820.51 539.93 L819.67 540.91 L818.85 541.84 L818.01 542.76 L817.14 543.71 L816.24 544.71 L815.35 545.74 L814.50 546.80 L813.71 547.81 L812.96 548.81 L812.22 549.83 L811.49 550.89 L810.77 551.98 L810.09 553.12 L809.46 554.28 L808.89 555.43 L808.37 556.57 L807.88 557.69 L807.41 558.78 L806.93 559.89 L806.45 561.05 L805.97 562.22 L805.52 563.36 L805.06 564.49 L804.60 565.58 L804.11 566.66 L803.59 567.75 L803.05 568.84 L802.49 569.94 L801.91 571.04 L801.32 572.15 L800.70 573.27 L800.06 574.40 L799.40 575.54 L798.72 576.69 L798.02 577.89 L797.30 579.13 L796.55 580.44 L795.78 581.80 L795.00 583.20 L794.20 584.63 L793.39 586.10 L792.56 587.58 L791.69 589.09 L790.79 590.63 L789.84 592.22 L788.87 593.83 L787.86 595.45 L786.83 597.05 L785.78 598.63 L784.70 600.18 L783.57 601.74 L782.40 603.31 L781.22 604.89 L780.03 606.47 L778.86 608.04 L777.72 609.61 L776.57 611.16 L775.43 612.72 L774.31 614.28 L773.20 615.83 L772.13 617.39 L771.09 618.95 L770.10 620.51 L769.13 622.05 L768.21 623.55 L767.31 625.00 L766.43 626.39 L765.58 627.73 L764.77 629.03 L763.98 630.28 L763.22 631.49 L762.45 632.65 L761.68 633.78 L760.90 634.87 L760.13 635.90 L759.34 636.92 L758.53 637.95 L757.67 639.04 L756.77 640.18 L755.82 641.38 L754.84 642.61 L753.81 643.88 L752.75 645.19 L751.67 646.56 L750.58 647.96 L749.47 649.40 L748.34 650.89 L747.19 652.42 L746.04 653.98 L744.90 655.54 L743.79 657.09 L742.70 658.65 L741.62 660.22 L740.56 661.79 L739.51 663.35 L738.49 664.89 L737.48 666.43 L736.49 667.95 L735.53 669.47 L734.60 670.97 L733.68 672.42 L732.77 673.84 L731.86 675.21 L730.93 676.56 L730.00 677.89 L729.08 679.18 L728.16 680.44 L727.21 681.66 L726.25 682.87 L725.25 684.06 L724.22 685.24 L723.15 686.40 L722.07 687.55 L721.00 688.68 L719.93 689.77 L718.90 690.81 L717.88 691.81 L716.86 692.79 L715.83 693.75 L714.79 694.72 L713.73 695.70 L712.69 696.64 L711.67 697.56 L710.62 698.48 L709.53 699.44 L708.36 700.48 L707.10 701.63 L705.76 702.88 L704.36 704.21 L702.91 705.60 L701.40 707.04 L699.85 708.51 L698.25 710.03 L696.59 711.61 L694.87 713.26 L693.11 714.94 L691.32 716.62 L689.52 718.27 L687.70 719.86 L685.85 721.42 L683.96 722.95 L682.03 724.48 L680.07 725.98 L678.10 727.47 L676.11 728.93 L674.13 730.37 L672.13 731.77 L670.11 733.16 L668.07 734.53 L665.99 735.92 L663.87 737.31 L661.72 738.72 L659.57 740.13 L657.40 741.54 L655.20 742.93 L652.95 744.31 L650.62 745.68 L648.21 747.06 L645.73 748.44 L643.20 749.82 L640.63 751.16 L638.02 752.47 L635.39 753.72 L632.71 754.91 L629.94 756.08 L627.12 757.21 L624.29 758.30 L621.46 759.36 L618.67 760.38 L615.93 761.36 L613.20 762.28 L610.47 763.17 L607.75 764.04 L605.07 764.90 L602.43 765.76 L599.86 766.60 L597.35 767.42 L594.89 768.23 L592.46 769.02 L590.03 769.80 L587.60 770.57 L585.18 771.33 L582.79 772.07 L580.40 772.80 L577.99 773.53 L575.55 774.28 L573.07 775.04 L570.56 775.81 L568.03 776.58 L565.46 777.37 L562.84 778.18 L560.15 779.04 L557.39 779.97 L554.53 780.97 L551.59 782.05 L548.61 783.16 L545.61 784.29 L542.64 785.40 L539.72 786.49 L536.82 787.59 L533.91 788.70 L531.05 789.81 L528.24 790.86 L525.50 791.85 L522.85 792.72 L520.30 793.49 L517.83 794.18 L515.41 794.80 L513.00 795.36 L510.56 795.90 L508.08 796.43 L505.57 796.91 L503.04 797.34 L500.48 797.73 L497.87 798.13 L495.21 798.54 L492.52 798.99 L489.81 799.48 L487.08 799.98 L484.32 800.50 L481.55 801.03 L478.77 801.57 L475.98 802.13 L473.19 802.70 L470.40 803.28 L467.60 803.88 L464.79 804.48 L461.94 805.08 L459.04 805.68 L456.09 806.28 L453.09 806.88 L450.06 807.49 L446.99 808.10 L443.88 808.70 L440.72 809.29 L437.49 809.89 L434.21 810.47 L430.88 811.06 L427.52 811.64 L424.14 812.22 L420.76 812.79 L417.33 813.35 L413.82 813.92 L410.29 814.47 L406.80 815.03 L403.41 815.56 L400.17 816.08 L397.10 816.59 L394.15 817.08 L391.30 817.57 L388.54 818.03 L385.87 818.48 L383.25 818.91 L380.77 819.31 L378.45 819.67 L376.19 820.02 L373.92 820.37 L371.54 820.74 L368.98 821.16 L366.21 821.61 L363.30 822.07 L360.27 822.56 L357.18 823.08 L354.07 823.62 L350.97 824.20 L347.87 824.81 L344.73 825.47 L341.57 826.15 L338.43 826.85 L335.35 827.55 L332.37 828.25 L329.46 828.94 L326.60 829.65 L323.80 830.36 L321.08 831.06 L318.42 831.75 L315.85 832.41 L313.33 833.04 L310.85 833.65 L308.43 834.25 L306.08 834.85 L303.83 835.44 L301.70 836.02 L299.73 836.60 L297.89 837.15 L296.15 837.70 L294.48 838.25 L292.84 838.84 L291.20 839.46 L289.57 840.13 L288.00 840.83 L286.48 841.54 L285.02 842.26 L283.59 842.98 L282.20 843.69 L280.81 844.40 L279.43 845.13 L278.08 845.86 L276.77 846.58 L275.49 847.30 L274.27 848.01 L273.10 848.69 L271.98 849.36 L270.87 850.03 L269.78 850.71 L268.71 851.43 L267.65 852.19 L266.64 852.96 L265.66 853.73 L264.70 854.54 L263.74 855.40 L262.78 856.32 L261.81 857.32 L260.84 858.40 L259.90 859.53 L258.97 860.70 L258.04 861.92 L257.11 863.17 L256.15 864.47 L255.16 865.86 L254.15 867.32 L253.14 868.82 L252.13 870.33 L251.13 871.80 L250.14 873.21 L249.15 874.58 L248.13 875.94 L247.09 877.31 L246.06 878.69 L245.04 880.07 L244.09 881.45 L243.20 882.76 L242.34 884.03 L241.49 885.33 L240.67 886.69 L239.88 888.15 L239.14 889.72 L238.49 891.36 L237.92 893.00 L237.41 894.69 L236.94 896.44 L236.47 898.29 L235.98 900.27 L235.46 902.41 L234.95 904.68 L234.44 907.06 L233.92 909.55 L233.39 912.16 L232.85 914.89 L232.28 917.79 L231.69 920.87 L231.08 924.08 L230.48 927.34 L229.90 930.60 L229.36 933.79 L228.86 936.93 L228.38 940.08 L227.93 943.20 L227.49 946.29 L227.06 949.33 L226.63 952.31 L226.20 955.20 L225.78 957.99 L225.37 960.74 L224.95 963.50 L224.53 966.34 L224.08 969.30 L223.61 972.40 L223.12 975.58 L222.62 978.84 L222.11 982.15 L221.61 985.51 L221.13 988.87 L220.64 992.27 L220.13 995.73 L219.63 999.23 L219.15 1002.76 L218.72 1006.27 L218.36 1009.76 L218.09 1013.10 L217.91 1016.29 L217.77 1019.44 L217.66 1022.67 L217.53 1026.10 L217.35 1029.87 L217.12 1034.39 L216.84 1039.64 L216.54 1045.11 L216.26 1050.30 L216.02 1054.72 L215.85 1057.86 L221.15 1058.14 L221.32 1055.00 L221.55 1050.59 L221.83 1045.39 L222.13 1039.92 L222.41 1034.67 L222.65 1030.13 L222.82 1026.32 L222.95 1022.87 L223.07 1019.65 L223.20 1016.56 L223.38 1013.47 L223.64 1010.24 L223.99 1006.87 L224.41 1003.43 L224.88 999.96 L225.38 996.49 L225.88 993.03 L226.37 989.63 L226.86 986.28 L227.35 982.95 L227.86 979.64 L228.36 976.39 L228.85 973.20 L229.32 970.10 L229.77 967.13 L230.19 964.29 L230.61 961.53 L231.02 958.77 L231.44 955.98 L231.87 953.09 L232.31 950.09 L232.74 947.04 L233.18 943.95 L233.63 940.85 L234.09 937.75 L234.59 934.66 L235.13 931.51 L235.70 928.29 L236.29 925.05 L236.89 921.86 L237.49 918.80 L238.05 915.91 L238.59 913.20 L239.11 910.62 L239.62 908.15 L240.12 905.82 L240.62 903.62 L241.12 901.53 L241.61 899.58 L242.06 897.79 L242.51 896.15 L242.97 894.63 L243.46 893.20 L244.01 891.83 L244.61 890.53 L245.27 889.33 L245.98 888.15 L246.75 886.97 L247.59 885.73 L248.46 884.45 L249.36 883.15 L250.32 881.84 L251.32 880.50 L252.36 879.13 L253.41 877.72 L254.46 876.29 L255.49 874.81 L256.52 873.30 L257.53 871.79 L258.53 870.31 L259.50 868.90 L260.45 867.58 L261.37 866.32 L262.27 865.11 L263.15 863.96 L264.01 862.87 L264.85 861.87 L265.69 860.93 L266.52 860.07 L267.34 859.28 L268.16 858.55 L269.00 857.85 L269.88 857.15 L270.80 856.46 L271.73 855.79 L272.68 855.15 L273.66 854.53 L274.70 853.90 L275.79 853.26 L276.93 852.59 L278.12 851.90 L279.35 851.21 L280.62 850.51 L281.92 849.80 L283.25 849.11 L284.60 848.41 L285.98 847.71 L287.38 847.01 L288.78 846.32 L290.21 845.65 L291.66 845.00 L293.15 844.39 L294.67 843.81 L296.20 843.27 L297.79 842.74 L299.45 842.21 L301.23 841.68 L303.15 841.13 L305.21 840.55 L307.40 839.98 L309.72 839.40 L312.13 838.80 L314.61 838.18 L317.15 837.54 L319.74 836.88 L322.40 836.19 L325.12 835.49 L327.89 834.79 L330.71 834.09 L333.58 833.40 L336.54 832.72 L339.60 832.02 L342.70 831.33 L345.83 830.66 L348.93 830.01 L351.98 829.40 L355.01 828.84 L358.07 828.30 L361.13 827.79 L364.14 827.31 L367.05 826.84 L369.82 826.39 L372.38 825.98 L374.74 825.61 L377.01 825.26 L379.26 824.91 L381.60 824.54 L384.10 824.14 L386.73 823.71 L389.42 823.26 L392.18 822.79 L395.03 822.31 L397.97 821.82 L401.03 821.32 L404.25 820.80 L407.63 820.26 L411.12 819.71 L414.66 819.15 L418.18 818.58 L421.64 818.01 L425.03 817.44 L428.42 816.86 L431.79 816.28 L435.14 815.69 L438.44 815.10 L441.68 814.51 L444.87 813.91 L448.01 813.30 L451.10 812.69 L454.14 812.08 L457.14 811.47 L460.11 810.87 L463.03 810.27 L465.89 809.66 L468.71 809.06 L471.49 808.47 L474.26 807.89 L477.02 807.32 L479.79 806.77 L482.56 806.23 L485.31 805.70 L488.05 805.19 L490.76 804.69 L493.43 804.21 L496.06 803.77 L498.67 803.37 L501.28 802.97 L503.89 802.57 L506.51 802.13 L509.12 801.62 L511.68 801.08 L514.18 800.53 L516.67 799.94 L519.19 799.30 L521.77 798.58 L524.45 797.78 L527.23 796.86 L530.06 795.84 L532.93 794.76 L535.82 793.65 L538.70 792.54 L541.58 791.46 L544.50 790.37 L547.48 789.25 L550.47 788.12 L553.43 787.02 L556.32 785.96 L559.11 784.98 L561.80 784.08 L564.44 783.23 L567.02 782.43 L569.57 781.65 L572.11 780.88 L574.63 780.11 L577.11 779.34 L579.54 778.60 L581.94 777.87 L584.34 777.14 L586.76 776.39 L589.20 775.63 L591.65 774.85 L594.09 774.06 L596.54 773.26 L599.00 772.46 L601.51 771.63 L604.07 770.79 L606.69 769.95 L609.37 769.09 L612.10 768.22 L614.87 767.31 L617.67 766.36 L620.48 765.37 L623.30 764.33 L626.17 763.25 L629.06 762.14 L631.95 760.98 L634.81 759.78 L637.61 758.53 L640.35 757.23 L643.04 755.88 L645.69 754.49 L648.29 753.09 L650.82 751.67 L653.28 750.27 L655.68 748.86 L658.00 747.43 L660.26 746.00 L662.47 744.57 L664.63 743.15 L666.78 741.74 L668.91 740.34 L671.01 738.94 L673.09 737.54 L675.15 736.12 L677.20 734.69 L679.24 733.22 L681.26 731.72 L683.28 730.20 L685.29 728.66 L687.27 727.09 L689.22 725.50 L691.15 723.89 L693.05 722.22 L694.93 720.51 L696.76 718.78 L698.53 717.08 L700.25 715.44 L701.90 713.87 L703.50 712.36 L705.06 710.87 L706.57 709.43 L708.02 708.05 L709.39 706.74 L710.70 705.52 L711.91 704.41 L713.04 703.41 L714.12 702.46 L715.18 701.53 L716.24 700.59 L717.32 699.60 L718.39 698.61 L719.45 697.62 L720.51 696.63 L721.57 695.62 L722.64 694.57 L723.72 693.48 L724.81 692.36 L725.92 691.20 L727.04 690.00 L728.16 688.77 L729.27 687.51 L730.35 686.23 L731.39 684.93 L732.39 683.62 L733.37 682.29 L734.33 680.95 L735.28 679.58 L736.24 678.19 L737.21 676.74 L738.15 675.27 L739.09 673.78 L740.02 672.29 L740.96 670.81 L741.92 669.32 L742.91 667.82 L743.93 666.28 L744.96 664.74 L746.00 663.20 L747.05 661.67 L748.11 660.16 L749.20 658.64 L750.31 657.12 L751.44 655.59 L752.57 654.08 L753.69 652.61 L754.77 651.19 L755.83 649.83 L756.89 648.51 L757.93 647.21 L758.96 645.93 L759.97 644.68 L760.93 643.47 L761.83 642.32 L762.69 641.24 L763.53 640.17 L764.35 639.10 L765.18 637.99 L766.02 636.82 L766.86 635.60 L767.67 634.36 L768.46 633.12 L769.26 631.85 L770.07 630.56 L770.92 629.21 L771.80 627.80 L772.71 626.34 L773.63 624.85 L774.57 623.34 L775.53 621.85 L776.52 620.36 L777.55 618.87 L778.62 617.37 L779.72 615.84 L780.85 614.30 L781.99 612.75 L783.14 611.21 L784.29 609.66 L785.47 608.11 L786.68 606.55 L787.89 604.97 L789.09 603.37 L790.27 601.77 L791.41 600.16 L792.54 598.55 L793.65 596.94 L794.73 595.35 L795.79 593.79 L796.81 592.26 L797.79 590.77 L798.74 589.29 L799.65 587.83 L800.52 586.42 L801.36 585.04 L802.15 583.71 L802.92 582.43 L803.65 581.18 L804.36 579.96 L805.04 578.75 L805.71 577.54 L806.35 576.33 L806.97 575.12 L807.57 573.94 L808.14 572.77 L808.70 571.61 L809.24 570.45 L809.79 569.29 L810.33 568.11 L810.84 566.94 L811.33 565.81 L811.82 564.71 L812.30 563.67 L812.82 562.66 L813.36 561.63 L813.90 560.63 L814.44 559.67 L815.00 558.76 L815.56 557.90 L816.16 557.08 L816.80 556.28 L817.49 555.50 L818.22 554.70 L819.00 553.88 L819.82 553.02 L820.65 552.15 L821.48 551.30 L822.35 550.44 L823.27 549.52 L824.23 548.54 L825.20 547.49 L826.13 546.39 L827.02 545.28 L827.88 544.15 L828.73 542.97 L829.57 541.75 L830.37 540.49 L831.12 539.20 L831.80 537.91 L832.43 536.62 L833.01 535.33 L833.55 534.04 L834.05 532.76 L834.53 531.45 L834.99 530.08 L835.37 528.71 L835.71 527.41 L836.02 526.20 L836.34 525.11 L836.65 524.17 L837.03 523.32 L837.51 522.44 L838.06 521.51 L838.64 520.53 L839.19 519.45 L839.64 518.21 L839.84 516.87 L839.77 515.66 L839.57 514.67 L839.35 513.90 L839.19 513.43 L839.12 513.15 Z" fill="#C7005D"/><circle cx="836.50" cy="513.80" r="2.70" fill="#C7005D"/><circle cx="218.50" cy="1058.00" r="2.65" fill="#C7005D"/>
<path d="M227.95 1058.02 L227.99 1054.99 L228.05 1050.83 L228.11 1045.90 L228.20 1040.55 L228.31 1035.15 L228.43 1030.06 L228.61 1025.21 L228.85 1020.26 L229.10 1015.24 L229.34 1010.17 L229.52 1005.09 L229.63 1000.01 L229.63 994.99 L229.55 990.02 L229.43 985.06 L229.28 980.09 L229.13 975.06 L229.02 969.94 L228.93 964.69 L228.84 959.35 L228.75 953.94 L228.67 948.48 L228.60 942.99 L228.53 937.48 L228.49 931.88 L228.45 926.17 L228.41 920.42 L228.39 914.72 L228.38 909.14 L228.38 903.77 L228.39 898.58 L228.42 893.52 L228.45 888.57 L228.50 883.76 L228.55 879.08 L228.60 874.55 L228.66 870.15 L228.72 865.88 L228.79 861.75 L228.87 857.77 L228.95 853.95 L229.03 850.32 L229.12 846.85 L229.22 843.54 L229.31 840.39 L229.42 837.43 L229.54 834.68 L229.67 832.14 L229.81 829.86 L229.95 827.85 L230.09 826.05 L230.26 824.41 L230.46 822.85 L230.70 821.31 L230.97 819.84 L231.26 818.51 L231.57 817.27 L231.93 816.07 L232.35 814.84 L232.85 813.54 L233.43 812.15 L234.06 810.74 L234.74 809.32 L235.49 807.91 L236.31 806.53 L237.22 805.17 L238.22 803.80 L239.28 802.41 L240.42 801.06 L241.63 799.74 L242.93 798.49 L244.34 797.30 L245.86 796.16 L247.48 795.07 L249.21 794.02 L251.06 793.01 L253.05 792.02 L255.19 791.07 L257.54 790.14 L260.10 789.24 L262.81 788.38 L265.63 787.53 L268.48 786.72 L271.30 785.92 L274.12 785.16 L276.99 784.43 L279.89 783.73 L282.79 783.05 L285.66 782.40 L288.48 781.77 L291.16 781.16 L293.72 780.59 L296.25 780.05 L298.81 779.52 L301.50 779.00 L304.39 778.48 L307.50 777.96 L310.75 777.45 L314.13 776.94 L317.64 776.44 L321.26 775.94 L324.98 775.44 L328.81 774.95 L332.76 774.46 L336.83 773.97 L341.00 773.49 L345.27 773.01 L349.63 772.54 L354.08 772.07 L358.64 771.61 L363.29 771.15 L368.04 770.70 L372.89 770.25 L377.84 769.79 L382.98 769.34 L388.32 768.88 L393.77 768.42 L399.20 767.97 L404.52 767.54 L409.62 767.12 L414.53 766.72 L419.34 766.34 L424.03 765.98 L428.60 765.62 L433.02 765.27 L437.28 764.92 L441.32 764.58 L445.14 764.26 L448.82 763.94 L452.42 763.62 L456.01 763.28 L459.65 762.91 L463.29 762.53 L466.89 762.13 L470.48 761.71 L474.07 761.28 L477.72 760.83 L481.45 760.36 L485.28 759.86 L489.21 759.34 L493.17 758.80 L497.16 758.24 L501.11 757.68 L505.01 757.13 L508.89 756.57 L512.80 755.99 L516.69 755.41 L520.50 754.84 L524.19 754.27 L527.68 753.72 L530.98 753.20 L534.10 752.69 L537.09 752.19 L539.98 751.70 L542.83 751.21 L545.67 750.72 L548.45 750.23 L551.12 749.75 L553.74 749.27 L556.37 748.79 L559.07 748.28 L561.88 747.74 L564.82 747.16 L567.84 746.57 L570.92 745.96 L574.06 745.32 L577.24 744.66 L580.45 743.98 L583.72 743.27 L587.05 742.54 L590.44 741.78 L593.83 741.00 L597.21 740.19 L600.53 739.36 L603.81 738.50 L607.08 737.61 L610.32 736.70 L613.52 735.76 L616.68 734.81 L619.78 733.85 L622.81 732.86 L625.78 731.85 L628.70 730.83 L631.57 729.80 L634.41 728.77 L637.23 727.75 L640.04 726.73 L642.80 725.71 L645.55 724.70 L648.28 723.67 L651.01 722.63 L653.75 721.58 L656.50 720.52 L659.26 719.44 L662.03 718.35 L664.79 717.25 L667.54 716.12 L670.27 714.98 L672.98 713.81 L675.67 712.61 L678.35 711.40 L681.01 710.17 L683.63 708.94 L686.22 707.72 L688.80 706.48 L691.37 705.23 L693.92 703.97 L696.42 702.71 L698.85 701.47 L701.21 700.26 L703.51 699.06 L705.78 697.87 L707.99 696.69 L710.11 695.53 L712.14 694.40 L714.04 693.30 L715.80 692.25 L717.43 691.22 L718.94 690.24 L720.36 689.28 L721.72 688.35 L723.05 687.45 L724.32 686.56 L725.52 685.71 L726.65 684.88 L727.75 684.07 L728.84 683.26 L729.95 682.43 L731.09 681.60 L732.23 680.76 L733.38 679.92 L734.54 679.05 L735.71 678.16 L736.88 677.22 L738.05 676.26 L739.21 675.27 L740.37 674.27 L741.53 673.24 L742.69 672.20 L743.85 671.14 L745.01 670.05 L746.17 668.94 L747.33 667.82 L748.48 666.69 L749.63 665.56 L750.77 664.44 L751.93 663.32 L753.09 662.19 L754.24 661.05 L755.40 659.92 L756.57 658.79 L757.73 657.66 L758.90 656.53 L760.08 655.39 L761.25 654.26 L762.43 653.13 L763.62 652.01 L764.81 650.89 L766.00 649.77 L767.20 648.65 L768.40 647.54 L769.61 646.43 L770.82 645.33 L772.02 644.24 L773.23 643.15 L774.45 642.07 L775.66 641.00 L776.88 639.92 L778.10 638.85 L779.32 637.77 L780.54 636.70 L781.76 635.62 L782.97 634.55 L784.18 633.47 L785.39 632.39 L786.59 631.32 L787.79 630.23 L788.98 629.15 L790.16 628.06 L791.34 626.98 L792.51 625.90 L793.67 624.82 L794.82 623.75 L795.96 622.68 L797.11 621.60 L798.25 620.53 L799.38 619.45 L800.49 618.38 L801.59 617.31 L802.68 616.26 L803.77 615.20 L804.86 614.14 L805.94 613.07 L807.00 612.00 L808.05 610.93 L809.07 609.86 L810.07 608.80 L811.06 607.75 L812.04 606.72 L813.01 605.70 L813.99 604.68 L814.95 603.68 L815.91 602.68 L816.86 601.70 L817.80 600.75 L818.75 599.81 L819.70 598.90 L820.66 597.99 L821.62 597.10 L822.59 596.22 L823.57 595.33 L824.55 594.45 L825.53 593.57 L826.51 592.70 L827.49 591.84 L828.48 590.98 L829.46 590.13 L830.45 589.27 L831.48 588.39 L832.53 587.47 L833.58 586.56 L834.57 585.72 L835.48 584.98 L836.28 584.38 L836.95 583.92 L837.52 583.56 L837.99 583.30 L838.36 583.12 L838.68 583.01 L838.88 582.96 L838.98 582.95 L839.15 582.98 L839.43 583.08 L839.78 583.22 L840.19 583.40 L840.55 583.54 L842.05 579.46 L841.84 579.39 L841.48 579.23 L840.92 579.00 L840.19 578.76 L839.28 578.61 L838.32 578.64 L837.48 578.83 L836.75 579.07 L836.03 579.40 L835.30 579.79 L834.55 580.26 L833.72 580.82 L832.79 581.50 L831.78 582.30 L830.72 583.18 L829.64 584.08 L828.58 584.97 L827.55 585.83 L826.54 586.65 L825.52 587.49 L824.51 588.32 L823.49 589.16 L822.47 590.01 L821.45 590.85 L820.43 591.69 L819.41 592.53 L818.38 593.37 L817.34 594.23 L816.30 595.10 L815.25 595.99 L814.21 596.89 L813.16 597.81 L812.12 598.73 L811.08 599.65 L810.04 600.57 L808.99 601.50 L807.92 602.44 L806.84 603.38 L805.77 604.33 L804.69 605.27 L803.60 606.21 L802.50 607.15 L801.38 608.09 L800.25 609.03 L799.09 609.98 L797.92 610.94 L796.74 611.93 L795.56 612.92 L794.38 613.93 L793.20 614.95 L792.01 615.98 L790.81 617.03 L789.62 618.09 L788.43 619.18 L787.26 620.27 L786.08 621.39 L784.92 622.51 L783.76 623.64 L782.61 624.79 L781.46 625.93 L780.32 627.09 L779.18 628.26 L778.05 629.43 L776.92 630.61 L775.80 631.79 L774.68 632.98 L773.56 634.16 L772.45 635.34 L771.33 636.53 L770.21 637.72 L769.10 638.92 L767.98 640.11 L766.85 641.32 L765.73 642.52 L764.61 643.72 L763.49 644.92 L762.37 646.12 L761.24 647.31 L760.12 648.50 L758.99 649.69 L757.86 650.87 L756.73 652.05 L755.60 653.22 L754.47 654.39 L753.34 655.56 L752.20 656.72 L751.07 657.88 L749.94 659.03 L748.81 660.17 L747.68 661.31 L746.54 662.45 L745.40 663.58 L744.27 664.71 L743.14 665.82 L742.02 666.91 L740.90 667.96 L739.78 669.00 L738.65 670.02 L737.53 671.02 L736.40 672.00 L735.28 672.95 L734.17 673.88 L733.06 674.76 L731.94 675.62 L730.82 676.46 L729.69 677.29 L728.55 678.13 L727.40 678.97 L726.27 679.80 L725.18 680.61 L724.10 681.42 L723.00 682.22 L721.85 683.04 L720.60 683.90 L719.29 684.80 L717.95 685.72 L716.57 686.65 L715.11 687.60 L713.55 688.58 L711.86 689.60 L710.02 690.66 L708.04 691.76 L705.94 692.90 L703.76 694.07 L701.52 695.25 L699.24 696.44 L696.90 697.65 L694.48 698.87 L692.00 700.12 L689.48 701.37 L686.93 702.61 L684.38 703.83 L681.80 705.05 L679.19 706.27 L676.56 707.49 L673.91 708.69 L671.25 709.87 L668.58 711.02 L665.89 712.15 L663.18 713.26 L660.44 714.36 L657.70 715.44 L654.95 716.51 L652.20 717.57 L649.47 718.62 L646.76 719.65 L644.04 720.67 L641.32 721.68 L638.56 722.69 L635.77 723.70 L632.94 724.73 L630.11 725.76 L627.26 726.78 L624.38 727.79 L621.45 728.78 L618.47 729.75 L615.42 730.70 L612.30 731.64 L609.13 732.56 L605.93 733.46 L602.70 734.34 L599.47 735.19 L596.19 736.01 L592.85 736.81 L589.49 737.59 L586.12 738.34 L582.80 739.07 L579.55 739.77 L576.36 740.45 L573.20 741.11 L570.07 741.74 L567.00 742.35 L564.00 742.94 L561.07 743.51 L558.26 744.05 L555.58 744.56 L552.96 745.04 L550.35 745.52 L547.70 745.99 L544.93 746.48 L542.10 746.98 L539.26 747.46 L536.37 747.95 L533.40 748.45 L530.29 748.95 L527.02 749.48 L523.53 750.02 L519.86 750.58 L516.05 751.16 L512.17 751.74 L508.27 752.31 L504.39 752.87 L500.51 753.43 L496.56 753.98 L492.59 754.54 L488.63 755.08 L484.72 755.60 L480.90 756.09 L477.19 756.56 L473.55 757.01 L469.97 757.44 L466.41 757.85 L462.83 758.25 L459.20 758.64 L455.59 759.00 L452.03 759.33 L448.44 759.66 L444.77 759.97 L440.96 760.29 L436.92 760.63 L432.67 760.98 L428.26 761.33 L423.70 761.69 L419.00 762.06 L414.19 762.43 L409.28 762.83 L404.17 763.25 L398.85 763.69 L393.41 764.13 L387.96 764.59 L382.61 765.05 L377.46 765.51 L372.50 765.96 L367.64 766.41 L362.87 766.87 L358.21 767.33 L353.64 767.79 L349.17 768.26 L344.80 768.73 L340.51 769.21 L336.33 769.69 L332.24 770.18 L328.27 770.67 L324.42 771.16 L320.68 771.66 L317.04 772.16 L313.51 772.66 L310.09 773.17 L306.81 773.69 L303.66 774.22 L300.70 774.75 L297.96 775.28 L295.35 775.81 L292.80 776.36 L290.22 776.93 L287.52 777.53 L284.70 778.17 L281.81 778.82 L278.88 779.50 L275.94 780.21 L273.02 780.95 L270.15 781.73 L267.29 782.52 L264.40 783.35 L261.52 784.21 L258.71 785.10 L256.02 786.04 L253.51 787.03 L251.19 788.06 L249.04 789.12 L247.02 790.22 L245.12 791.37 L243.32 792.58 L241.61 793.85 L239.99 795.22 L238.49 796.65 L237.11 798.13 L235.85 799.63 L234.68 801.13 L233.58 802.63 L232.56 804.16 L231.62 805.73 L230.78 807.29 L230.02 808.85 L229.33 810.37 L228.70 811.86 L228.14 813.30 L227.66 814.69 L227.24 816.07 L226.87 817.48 L226.55 818.95 L226.25 820.54 L225.98 822.20 L225.75 823.87 L225.56 825.62 L225.39 827.49 L225.24 829.55 L225.08 831.86 L224.92 834.44 L224.78 837.23 L224.65 840.21 L224.52 843.38 L224.39 846.70 L224.27 850.18 L224.14 853.82 L224.02 857.64 L223.90 861.63 L223.78 865.77 L223.66 870.05 L223.55 874.45 L223.43 878.99 L223.32 883.67 L223.20 888.49 L223.10 893.45 L223.00 898.53 L222.92 903.73 L222.85 909.12 L222.80 914.70 L222.75 920.42 L222.72 926.18 L222.71 931.91 L222.72 937.52 L222.74 943.05 L222.79 948.55 L222.86 954.03 L222.94 959.45 L223.03 964.79 L223.13 970.06 L223.27 975.23 L223.44 980.28 L223.63 985.25 L223.80 990.16 L223.92 995.06 L223.97 999.99 L223.93 1004.96 L223.80 1009.98 L223.63 1015.01 L223.44 1020.04 L223.28 1025.02 L223.17 1029.94 L223.11 1035.07 L223.07 1040.49 L223.06 1045.85 L223.06 1050.80 L223.06 1054.96 L223.05 1057.98 Z" fill="#7EC0EE"/><circle cx="225.50" cy="1058.00" r="2.45" fill="#7EC0EE"/><circle cx="841.30" cy="581.50" r="2.17" fill="#7EC0EE"/>
<path d="M839.08 582.42 L839.30 582.96 L839.38 583.14 L839.41 583.27 L839.43 583.59 L839.38 584.24 L839.21 585.35 L838.95 586.80 L838.61 588.43 L838.22 590.12 L837.78 591.76 L837.33 593.22 L836.83 594.55 L836.27 595.87 L835.65 597.17 L835.00 598.46 L834.34 599.74 L833.68 600.99 L833.05 602.17 L832.42 603.29 L831.79 604.38 L831.15 605.45 L830.49 606.51 L829.82 607.57 L829.14 608.61 L828.43 609.64 L827.70 610.68 L826.94 611.74 L826.18 612.83 L825.42 613.95 L824.68 615.06 L823.94 616.19 L823.21 617.31 L822.48 618.44 L821.75 619.57 L821.04 620.70 L820.33 621.83 L819.65 622.95 L818.99 624.06 L818.34 625.13 L817.69 626.16 L817.03 627.17 L816.36 628.14 L815.69 629.09 L815.01 630.01 L814.31 630.93 L813.59 631.85 L812.81 632.80 L812.01 633.73 L811.17 634.65 L810.28 635.60 L809.33 636.60 L808.32 637.68 L807.25 638.85 L806.13 640.09 L804.96 641.39 L803.73 642.76 L802.45 644.20 L801.15 645.71 L799.83 647.28 L798.50 648.93 L797.16 650.65 L795.80 652.42 L794.42 654.24 L793.02 656.11 L791.61 658.01 L790.17 659.97 L788.72 662.01 L787.26 664.07 L785.79 666.13 L784.31 668.17 L782.83 670.15 L781.31 672.12 L779.78 674.10 L778.23 676.05 L776.68 677.96 L775.13 679.80 L773.60 681.56 L772.09 683.21 L770.58 684.77 L769.07 686.28 L767.53 687.77 L765.96 689.27 L764.36 690.79 L762.72 692.33 L761.06 693.86 L759.36 695.40 L757.64 696.93 L755.92 698.47 L754.21 700.00 L752.48 701.55 L750.72 703.13 L748.96 704.70 L747.23 706.22 L745.56 707.67 L743.99 709.01 L742.51 710.24 L741.10 711.37 L739.74 712.43 L738.42 713.44 L737.11 714.41 L735.79 715.37 L734.49 716.28 L733.25 717.12 L732.02 717.93 L730.76 718.74 L729.44 719.57 L728.01 720.45 L726.48 721.40 L724.90 722.39 L723.28 723.40 L721.63 724.42 L719.99 725.44 L718.35 726.46 L716.70 727.51 L715.04 728.61 L713.39 729.72 L711.75 730.83 L710.11 731.94 L708.48 733.01 L706.84 734.04 L705.18 735.03 L703.50 735.99 L701.74 736.93 L699.90 737.86 L697.96 738.81 L695.92 739.74 L693.79 740.65 L691.57 741.55 L689.27 742.45 L686.89 743.37 L684.45 744.32 L681.94 745.30 L679.34 746.31 L676.69 747.34 L673.99 748.39 L671.27 749.45 L668.56 750.52 L665.84 751.60 L663.10 752.71 L660.35 753.82 L657.60 754.94 L654.86 756.04 L652.12 757.11 L649.37 758.18 L646.62 759.25 L643.87 760.31 L641.14 761.34 L638.43 762.32 L635.75 763.25 L633.09 764.12 L630.45 764.94 L627.82 765.73 L625.20 766.47 L622.61 767.18 L620.03 767.84 L617.50 768.45 L614.99 769.00 L612.48 769.51 L609.96 770.01 L607.40 770.53 L604.80 771.08 L602.18 771.66 L599.56 772.25 L596.91 772.84 L594.25 773.45 L591.57 774.08 L588.88 774.72 L586.15 775.38 L583.41 776.07 L580.66 776.77 L577.91 777.47 L575.16 778.15 L572.43 778.81 L569.68 779.45 L566.91 780.09 L564.13 780.71 L561.37 781.32 L558.66 781.91 L556.01 782.48 L553.40 783.04 L550.82 783.58 L548.29 784.11 L545.83 784.62 L543.46 785.09 L541.20 785.51 L539.06 785.89 L537.03 786.23 L535.08 786.54 L533.19 786.82 L531.34 787.09 L529.51 787.35 L527.74 787.58 L526.06 787.78 L524.40 787.96 L522.72 788.15 L520.99 788.36 L519.18 788.60 L517.32 788.86 L515.45 789.14 L513.55 789.44 L511.58 789.76 L509.54 790.10 L507.38 790.46 L505.10 790.85 L502.72 791.27 L500.25 791.72 L497.73 792.17 L495.15 792.64 L492.55 793.11 L489.91 793.60 L487.23 794.10 L484.50 794.62 L481.74 795.13 L478.95 795.63 L476.12 796.11 L473.27 796.56 L470.41 797.00 L467.50 797.43 L464.52 797.86 L461.44 798.29 L458.24 798.72 L454.94 799.15 L451.55 799.57 L448.06 799.99 L444.44 800.42 L440.69 800.89 L436.79 801.40 L432.67 801.96 L428.32 802.56 L423.85 803.20 L419.34 803.84 L414.89 804.48 L410.59 805.10 L406.37 805.70 L402.14 806.30 L397.97 806.90 L393.91 807.48 L390.04 808.04 L386.43 808.58 L383.15 809.06 L380.16 809.50 L377.35 809.91 L374.61 810.34 L371.86 810.79 L368.98 811.29 L366.01 811.84 L363.03 812.42 L360.03 813.03 L357.02 813.67 L354.00 814.32 L350.97 814.98 L347.87 815.67 L344.71 816.38 L341.52 817.11 L338.38 817.85 L335.31 818.59 L332.40 819.32 L329.63 820.04 L326.96 820.74 L324.38 821.45 L321.87 822.16 L319.43 822.87 L317.05 823.61 L314.72 824.36 L312.45 825.11 L310.26 825.88 L308.13 826.66 L306.07 827.43 L304.06 828.22 L302.11 829.00 L300.22 829.79 L298.39 830.59 L296.62 831.40 L294.91 832.21 L293.26 833.03 L291.67 833.86 L290.15 834.69 L288.68 835.53 L287.27 836.38 L285.91 837.24 L284.60 838.11 L283.33 839.00 L282.13 839.90 L280.98 840.81 L279.87 841.73 L278.81 842.67 L277.78 843.62 L276.79 844.59 L275.85 845.57 L274.95 846.56 L274.08 847.58 L273.24 848.64 L272.40 849.74 L271.59 850.88 L270.82 852.06 L270.07 853.26 L269.34 854.48 L268.61 855.74 L267.87 857.06 L267.12 858.43 L266.36 859.86 L265.60 861.32 L264.84 862.82 L264.08 864.34 L263.30 865.90 L262.50 867.49 L261.70 869.12 L260.89 870.79 L260.07 872.48 L259.23 874.20 L258.39 875.94 L257.53 877.68 L256.65 879.43 L255.76 881.22 L254.84 883.08 L253.91 885.03 L252.98 887.09 L252.04 889.21 L251.08 891.40 L250.10 893.68 L249.13 896.08 L248.16 898.62 L247.22 901.30 L246.31 904.15 L245.41 907.13 L244.53 910.24 L243.67 913.43 L242.83 916.68 L242.02 919.95 L241.23 923.28 L240.47 926.71 L239.74 930.19 L239.02 933.68 L238.33 937.15 L237.65 940.57 L236.98 943.94 L236.32 947.30 L235.68 950.65 L235.05 953.99 L234.46 957.32 L233.88 960.66 L233.34 963.98 L232.82 967.27 L232.33 970.55 L231.85 973.84 L231.39 977.17 L230.94 980.55 L230.51 983.96 L230.11 987.40 L229.72 990.85 L229.34 994.35 L228.95 997.91 L228.56 1001.54 L228.16 1005.16 L227.75 1008.74 L227.34 1012.39 L226.93 1016.22 L226.54 1020.33 L226.16 1024.82 L225.78 1030.16 L225.38 1036.35 L225.00 1042.81 L224.66 1048.95 L224.37 1054.16 L224.15 1057.87 L228.85 1058.13 L229.06 1054.43 L229.35 1049.21 L229.70 1043.09 L230.08 1036.64 L230.47 1030.47 L230.84 1025.18 L231.22 1020.75 L231.61 1016.69 L232.01 1012.90 L232.42 1009.27 L232.83 1005.69 L233.24 1002.06 L233.63 998.42 L234.01 994.86 L234.39 991.37 L234.78 987.93 L235.18 984.53 L235.61 981.15 L236.05 977.80 L236.51 974.50 L236.98 971.23 L237.47 967.98 L237.98 964.72 L238.52 961.44 L239.08 958.14 L239.68 954.83 L240.30 951.52 L240.93 948.19 L241.59 944.85 L242.25 941.48 L242.94 938.07 L243.63 934.61 L244.34 931.14 L245.07 927.70 L245.81 924.33 L246.58 921.05 L247.38 917.83 L248.21 914.63 L249.06 911.49 L249.92 908.45 L250.80 905.54 L251.68 902.80 L252.58 900.23 L253.50 897.81 L254.44 895.49 L255.39 893.27 L256.34 891.11 L257.27 889.01 L258.18 887.01 L259.07 885.13 L259.97 883.31 L260.86 881.53 L261.74 879.77 L262.61 878.01 L263.46 876.25 L264.30 874.53 L265.12 872.85 L265.92 871.19 L266.72 869.58 L267.50 868.00 L268.28 866.45 L269.04 864.94 L269.79 863.46 L270.52 862.04 L271.25 860.66 L271.98 859.34 L272.70 858.07 L273.40 856.86 L274.08 855.70 L274.77 854.60 L275.47 853.54 L276.20 852.51 L276.95 851.52 L277.71 850.57 L278.48 849.66 L279.28 848.78 L280.13 847.90 L281.02 847.03 L281.96 846.15 L282.93 845.30 L283.94 844.46 L284.99 843.63 L286.09 842.81 L287.25 841.99 L288.47 841.18 L289.74 840.37 L291.06 839.58 L292.44 838.79 L293.88 838.00 L295.39 837.22 L296.96 836.44 L298.60 835.66 L300.30 834.89 L302.07 834.12 L303.90 833.35 L305.79 832.58 L307.75 831.82 L309.76 831.06 L311.84 830.31 L313.98 829.56 L316.18 828.82 L318.45 828.09 L320.79 827.38 L323.18 826.67 L325.64 825.97 L328.18 825.28 L330.81 824.58 L333.55 823.88 L336.44 823.16 L339.47 822.43 L342.59 821.69 L345.75 820.96 L348.90 820.25 L351.98 819.57 L355.00 818.91 L358.00 818.26 L360.98 817.64 L363.95 817.03 L366.89 816.46 L369.82 815.91 L372.64 815.42 L375.35 814.98 L378.05 814.56 L380.84 814.15 L383.83 813.71 L387.12 813.22 L390.72 812.69 L394.58 812.13 L398.63 811.55 L402.81 810.96 L407.04 810.35 L411.26 809.75 L415.56 809.14 L420.01 808.50 L424.51 807.85 L428.98 807.22 L433.31 806.61 L437.41 806.05 L441.29 805.55 L445.01 805.09 L448.62 804.65 L452.12 804.23 L455.53 803.81 L458.86 803.38 L462.08 802.94 L465.18 802.51 L468.17 802.08 L471.11 801.65 L474.00 801.21 L476.88 800.74 L479.75 800.26 L482.58 799.75 L485.37 799.24 L488.10 798.72 L490.77 798.22 L493.40 797.74 L495.99 797.27 L498.57 796.80 L501.09 796.34 L503.54 795.90 L505.91 795.48 L508.17 795.09 L510.31 794.73 L512.34 794.40 L514.28 794.08 L516.16 793.79 L518.00 793.51 L519.82 793.25 L521.58 793.02 L523.26 792.82 L524.92 792.64 L526.59 792.45 L528.33 792.24 L530.14 792.00 L532.00 791.74 L533.88 791.47 L535.80 791.19 L537.79 790.87 L539.86 790.53 L542.05 790.14 L544.35 789.70 L546.76 789.22 L549.25 788.72 L551.79 788.18 L554.38 787.63 L556.99 787.07 L559.65 786.50 L562.38 785.91 L565.15 785.30 L567.94 784.67 L570.74 784.03 L573.52 783.39 L576.29 782.72 L579.06 782.03 L581.82 781.32 L584.56 780.63 L587.28 779.94 L589.97 779.28 L592.65 778.65 L595.31 778.03 L597.96 777.43 L600.59 776.83 L603.20 776.25 L605.80 775.67 L608.35 775.13 L610.88 774.62 L613.41 774.12 L615.96 773.60 L618.55 773.03 L621.17 772.41 L623.81 771.72 L626.46 771.00 L629.13 770.24 L631.82 769.44 L634.53 768.59 L637.25 767.70 L640.00 766.75 L642.76 765.75 L645.54 764.71 L648.31 763.64 L651.08 762.56 L653.83 761.49 L656.59 760.40 L659.36 759.30 L662.12 758.18 L664.87 757.06 L667.59 755.96 L670.29 754.88 L672.99 753.82 L675.69 752.77 L678.39 751.72 L681.04 750.70 L683.64 749.70 L686.15 748.73 L688.58 747.82 L690.96 746.95 L693.29 746.11 L695.58 745.29 L697.82 744.49 L699.99 743.69 L702.08 742.92 L704.07 742.19 L706.02 741.46 L707.94 740.71 L709.85 739.93 L711.77 739.09 L713.70 738.17 L715.59 737.18 L717.44 736.14 L719.22 735.06 L720.93 733.94 L722.60 732.79 L724.23 731.59 L725.83 730.34 L727.38 729.07 L728.86 727.82 L730.28 726.60 L731.64 725.45 L732.92 724.38 L734.13 723.37 L735.30 722.41 L736.47 721.45 L737.67 720.47 L738.91 719.43 L740.19 718.38 L741.48 717.32 L742.79 716.24 L744.15 715.11 L745.56 713.92 L747.06 712.64 L748.66 711.25 L750.35 709.76 L752.09 708.21 L753.85 706.63 L755.62 705.05 L757.34 703.50 L759.05 701.97 L760.78 700.44 L762.50 698.89 L764.22 697.34 L765.92 695.77 L767.59 694.21 L769.21 692.67 L770.79 691.16 L772.36 689.63 L773.93 688.06 L775.51 686.42 L777.10 684.69 L778.70 682.86 L780.30 680.96 L781.89 679.00 L783.47 677.00 L785.03 675.00 L786.57 673.00 L788.10 670.96 L789.61 668.88 L791.09 666.79 L792.55 664.73 L793.98 662.72 L795.39 660.79 L796.79 658.92 L798.17 657.07 L799.53 655.27 L800.87 653.53 L802.19 651.86 L803.47 650.27 L804.73 648.75 L805.99 647.30 L807.24 645.90 L808.45 644.56 L809.63 643.27 L810.75 642.05 L811.79 640.92 L812.78 639.89 L813.73 638.90 L814.67 637.93 L815.59 636.96 L816.49 635.95 L817.34 634.96 L818.15 633.99 L818.92 633.03 L819.67 632.07 L820.42 631.09 L821.17 630.08 L821.93 629.03 L822.68 627.95 L823.40 626.87 L824.12 625.80 L824.84 624.75 L825.56 623.70 L826.31 622.65 L827.08 621.57 L827.86 620.49 L828.64 619.41 L829.41 618.32 L830.18 617.25 L830.94 616.21 L831.70 615.17 L832.48 614.11 L833.26 613.01 L834.03 611.89 L834.78 610.73 L835.49 609.57 L836.17 608.42 L836.82 607.24 L837.47 606.04 L838.10 604.80 L838.72 603.51 L839.33 602.20 L839.96 600.83 L840.58 599.41 L841.19 597.92 L841.76 596.38 L842.27 594.78 L842.73 593.07 L843.14 591.25 L843.50 589.42 L843.80 587.67 L844.05 586.10 L844.22 584.76 L844.28 583.59 L844.19 582.54 L843.97 581.67 L843.75 581.12 L843.52 580.58 Z" fill="#7EC0EE"/><circle cx="841.30" cy="581.50" r="2.40" fill="#7EC0EE"/><circle cx="226.50" cy="1058.00" r="2.35" fill="#7EC0EE"/>
<path d="M214.5 1051.7 C215.2 1049.8 217.1 1044.1 218.5 1040.0 C219.9 1035.9 222.4 1029.4 223.2 1027.3" fill="none" stroke="#7EC0EE" stroke-width="1.6" stroke-linejoin="round" stroke-linecap="round"/>
<rect x="144.1" y="413.8" width="807.5" height="646.5" fill="none" stroke="#1d1d1b" stroke-width="3"/>
<text id="d1" class="t42" transform="translate(134.90 0) scale(1.0556 1) translate(-137.00 0)" x="135" y="274.3">5°</text>
<text id="d2" class="t42" transform="translate(413.90 0) scale(1.0155 1) translate(-417.00 0)" x="414" y="274.0">15°</text>
<text id="d3" class="t42" transform="translate(713.90 0) scale(1.0525 1) translate(-716.00 0)" x="714" y="274.0">30°</text>
<text id="ti1" class="title" transform="translate(265.40 0) scale(1.0065 1) translate(-267.00 0)" x="264" y="377.3">unilateral,</text>
<text id="ti2" class="title" transform="translate(485.70 0) scale(1.0145 1) translate(-486.00 0)" x="484.5" y="377.3">300Pa,</text>
<text id="ti3" class="title" transform="translate(666.20 0) scale(1.0091 1) translate(-667.00 0)" x="665" y="377.3">300mm</text>
<text id="y12" class="tick" transform="translate(57.30 0) scale(1.0088 1) translate(-60.00 0)" x="57" y="420.7">12.0</text>
<text id="y10" class="tick" transform="translate(57.30 0) scale(1.0088 1) translate(-60.00 0)" x="57" y="529.0">10.0</text>
<text id="y8" class="tick" transform="translate(75.60 0) scale(1.0327 1) translate(-76.00 0)" x="75" y="637.3">8.0</text>
<text id="y6" class="tick" transform="translate(75.60 0) scale(1.0542 1) translate(-77.00 0)" x="75" y="745.4">6.0</text>
<text id="y4" class="tick" transform="translate(75.60 0) scale(1.0327 1) translate(-76.00 0)" x="75" y="853.6">4.0</text>
<text id="y2" class="tick" transform="translate(75.60 0) scale(1.0542 1) translate(-77.00 0)" x="75" y="961.9">2.0</text>
<text id="y0" class="tick" transform="translate(75.60 0) scale(1.0327 1) translate(-76.00 0)" x="75" y="1070.0">0.0</text>
<text id="x0" class="tick" transform="translate(134.20 0) scale(1.0722 1) translate(-135.00 0)" x="134" y="1103.3">0</text>
<text id="x10" class="tick" transform="translate(240.80 0) scale(1.0351 1) translate(-243.00 0)" x="240" y="1103.3">10</text>
<text id="x20" class="tick" transform="translate(353.80 0) scale(1.0947 1) translate(-356.00 0)" x="354" y="1103.3">20</text>
<text id="x30" class="tick" transform="translate(469.80 0) scale(1.0579 1) translate(-472.00 0)" x="470" y="1103.3">30</text>
<text id="x40" class="tick" transform="translate(585.20 0) scale(1.0333 1) translate(-586.00 0)" x="585" y="1103.3">40</text>
<text id="x50" class="tick" transform="translate(700.30 0) scale(1.0711 1) translate(-702.00 0)" x="700" y="1103.3">50</text>
<text id="x60" class="tick" transform="translate(816.00 0) scale(1.0553 1) translate(-818.00 0)" x="816" y="1103.3">60</text>
<text id="x70" class="tick" transform="translate(935.40 0) scale(1.0553 1) translate(-937.00 0)" x="935" y="1103.3">70</text>
<text id="c5" class="t42" transform="translate(612.70 0) scale(1.0639 1) translate(-614.00 0)" x="612" y="574.6">5°</text>
<text id="c15" class="t42" transform="translate(770.80 0) scale(1.0086 1) translate(-773.00 0)" x="770" y="514.1">15°</text>
<text id="c30" class="t42" transform="translate(862.90 0) scale(1.0525 1) translate(-864.00 0)" x="862" y="615.4">30°</text>
<text id="ax" class="axt" transform="translate(398.30 0) scale(1.0073 1) translate(-399.00 0)" x="398" y="1158.7">angle (degree)</text>
<text id="ay" class="axt" transform="translate(31.9 825.60) rotate(-90) scale(1.0104 1) translate(-0.00 0)" x="0" y="0">force (N)</text>
</svg>
</body></html>
